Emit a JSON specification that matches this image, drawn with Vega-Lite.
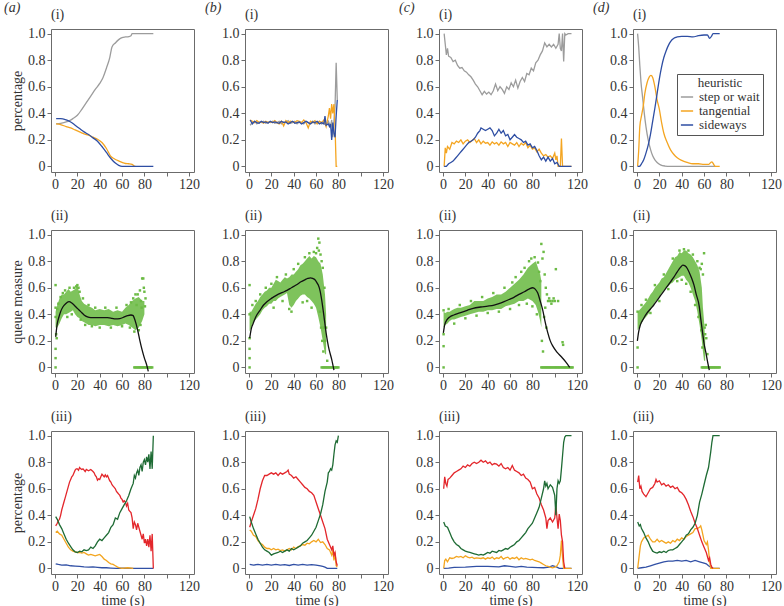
{
  "$schema": "https://vega.github.io/schema/vega-lite/v6.json",
  "padding": {"left": 4, "top": 1, "right": 0, "bottom": 0},
  "config": {
    "font": "Liberation Serif",
    "view": {"stroke": "#6b6b6b", "strokeWidth": 1},
    "axis": {"labelFont": "Liberation Serif", "labelFontSize": 14, "labelColor": "#333", "titleFont": "Liberation Serif", "titleFontSize": 14, "titleFontWeight": "normal", "titleColor": "#333", "domain": false, "grid": false, "tickColor": "#6b6b6b", "tickSize": 4, "labelOverlap": false},
    "axisX": {"labelPadding": 1, "titlePadding": 0},
    "axisY": {"labelPadding": 2, "titlePadding": 3},
    "title": {"font": "Liberation Serif", "fontSize": 14, "fontWeight": "normal", "color": "#333", "anchor": "start", "frame": "group", "offset": 5},
    "legend": {"labelFont": "Liberation Serif", "labelFontSize": 13, "labelColor": "#333", "titleFont": "Liberation Serif", "titleFontSize": 13, "titleFontWeight": "normal", "titleColor": "#333", "strokeColor": "#555", "padding": 3, "symbolStrokeWidth": 1.5, "symbolSize": 150, "rowPadding": 0, "titlePadding": 0, "labelOffset": 5, "titleAnchor": "middle"}
  },
  "datasets": {
    "lines": [
      {"p":"a1","s":"step or wait","t":1,"v":0.32},{"p":"a1","s":"step or wait","t":5,"v":0.325},{"p":"a1","s":"step or wait","t":10,"v":0.335},{"p":"a1","s":"step or wait","t":13,"v":0.345},{"p":"a1","s":"step or wait","t":16,"v":0.36},{"p":"a1","s":"step or wait","t":20,"v":0.385},{"p":"a1","s":"step or wait","t":24,"v":0.43},{"p":"a1","s":"step or wait","t":28,"v":0.48},{"p":"a1","s":"step or wait","t":32,"v":0.53},{"p":"a1","s":"step or wait","t":36,"v":0.58},{"p":"a1","s":"step or wait","t":40,"v":0.625},{"p":"a1","s":"step or wait","t":43,"v":0.67},{"p":"a1","s":"step or wait","t":46,"v":0.74},{"p":"a1","s":"step or wait","t":49,"v":0.82},{"p":"a1","s":"step or wait","t":51,"v":0.9},{"p":"a1","s":"step or wait","t":54,"v":0.93},{"p":"a1","s":"step or wait","t":57,"v":0.955},{"p":"a1","s":"step or wait","t":60,"v":0.97},{"p":"a1","s":"step or wait","t":63,"v":0.975},{"p":"a1","s":"step or wait","t":66,"v":0.978},{"p":"a1","s":"step or wait","t":68,"v":0.985},{"p":"a1","s":"step or wait","t":69,"v":1.0},{"p":"a1","s":"step or wait","t":75,"v":1.0},{"p":"a1","s":"step or wait","t":88,"v":1.0},
      {"p":"a1","s":"tangential","t":1,"v":0.32},{"p":"a1","s":"tangential","t":5,"v":0.315},{"p":"a1","s":"tangential","t":10,"v":0.3},{"p":"a1","s":"tangential","t":14,"v":0.29},{"p":"a1","s":"tangential","t":18,"v":0.275},{"p":"a1","s":"tangential","t":22,"v":0.26},{"p":"a1","s":"tangential","t":26,"v":0.245},{"p":"a1","s":"tangential","t":30,"v":0.235},{"p":"a1","s":"tangential","t":34,"v":0.22},{"p":"a1","s":"tangential","t":38,"v":0.205},{"p":"a1","s":"tangential","t":42,"v":0.18},{"p":"a1","s":"tangential","t":46,"v":0.135},{"p":"a1","s":"tangential","t":50,"v":0.075},{"p":"a1","s":"tangential","t":53,"v":0.058},{"p":"a1","s":"tangential","t":56,"v":0.045},{"p":"a1","s":"tangential","t":60,"v":0.03},{"p":"a1","s":"tangential","t":63,"v":0.022},{"p":"a1","s":"tangential","t":66,"v":0.02},{"p":"a1","s":"tangential","t":69,"v":0.015},{"p":"a1","s":"tangential","t":71,"v":0.003},{"p":"a1","s":"tangential","t":72,"v":0},
      {"p":"a1","s":"sideways","t":1,"v":0.36},{"p":"a1","s":"sideways","t":5,"v":0.36},{"p":"a1","s":"sideways","t":10,"v":0.35},{"p":"a1","s":"sideways","t":14,"v":0.335},{"p":"a1","s":"sideways","t":18,"v":0.31},{"p":"a1","s":"sideways","t":22,"v":0.285},{"p":"a1","s":"sideways","t":26,"v":0.26},{"p":"a1","s":"sideways","t":30,"v":0.24},{"p":"a1","s":"sideways","t":34,"v":0.215},{"p":"a1","s":"sideways","t":38,"v":0.19},{"p":"a1","s":"sideways","t":42,"v":0.15},{"p":"a1","s":"sideways","t":46,"v":0.105},{"p":"a1","s":"sideways","t":50,"v":0.06},{"p":"a1","s":"sideways","t":54,"v":0.025},{"p":"a1","s":"sideways","t":57,"v":0.008},{"p":"a1","s":"sideways","t":60,"v":0},{"p":"a1","s":"sideways","t":70,"v":0},{"p":"a1","s":"sideways","t":88,"v":0},

      {"p":"b1","s":"step or wait","t":1,"v":0.31},{"p":"b1","s":"step or wait","t":3,"v":0.33},{"p":"b1","s":"step or wait","t":5,"v":0.34},{"p":"b1","s":"step or wait","t":7,"v":0.32},{"p":"b1","s":"step or wait","t":9,"v":0.335},{"p":"b1","s":"step or wait","t":11,"v":0.33},{"p":"b1","s":"step or wait","t":13,"v":0.34},{"p":"b1","s":"step or wait","t":15,"v":0.325},{"p":"b1","s":"step or wait","t":17,"v":0.335},{"p":"b1","s":"step or wait","t":19,"v":0.33},{"p":"b1","s":"step or wait","t":21,"v":0.34},{"p":"b1","s":"step or wait","t":23,"v":0.325},{"p":"b1","s":"step or wait","t":25,"v":0.33},{"p":"b1","s":"step or wait","t":27,"v":0.34},{"p":"b1","s":"step or wait","t":29,"v":0.32},{"p":"b1","s":"step or wait","t":31,"v":0.335},{"p":"b1","s":"step or wait","t":33,"v":0.33},{"p":"b1","s":"step or wait","t":35,"v":0.345},{"p":"b1","s":"step or wait","t":37,"v":0.325},{"p":"b1","s":"step or wait","t":39,"v":0.33},{"p":"b1","s":"step or wait","t":41,"v":0.34},{"p":"b1","s":"step or wait","t":43,"v":0.32},{"p":"b1","s":"step or wait","t":45,"v":0.335},{"p":"b1","s":"step or wait","t":47,"v":0.33},{"p":"b1","s":"step or wait","t":49,"v":0.32},{"p":"b1","s":"step or wait","t":51,"v":0.34},{"p":"b1","s":"step or wait","t":53,"v":0.33},{"p":"b1","s":"step or wait","t":55,"v":0.325},{"p":"b1","s":"step or wait","t":57,"v":0.34},{"p":"b1","s":"step or wait","t":59,"v":0.32},{"p":"b1","s":"step or wait","t":61,"v":0.33},{"p":"b1","s":"step or wait","t":63,"v":0.34},{"p":"b1","s":"step or wait","t":65,"v":0.32},{"p":"b1","s":"step or wait","t":67,"v":0.33},{"p":"b1","s":"step or wait","t":69,"v":0.31},{"p":"b1","s":"step or wait","t":71,"v":0.34},{"p":"b1","s":"step or wait","t":73,"v":0.3},{"p":"b1","s":"step or wait","t":74,"v":0.35},{"p":"b1","s":"step or wait","t":75,"v":0.22},{"p":"b1","s":"step or wait","t":76,"v":0.34},{"p":"b1","s":"step or wait","t":77,"v":0.45},{"p":"b1","s":"step or wait","t":78,"v":0.78},{"p":"b1","s":"step or wait","t":79,"v":0.5},
      {"p":"b1","s":"tangential","t":1,"v":0.35},{"p":"b1","s":"tangential","t":3,"v":0.34},{"p":"b1","s":"tangential","t":5,"v":0.33},{"p":"b1","s":"tangential","t":7,"v":0.345},{"p":"b1","s":"tangential","t":9,"v":0.33},{"p":"b1","s":"tangential","t":11,"v":0.335},{"p":"b1","s":"tangential","t":13,"v":0.325},{"p":"b1","s":"tangential","t":15,"v":0.34},{"p":"b1","s":"tangential","t":17,"v":0.33},{"p":"b1","s":"tangential","t":19,"v":0.335},{"p":"b1","s":"tangential","t":21,"v":0.33},{"p":"b1","s":"tangential","t":23,"v":0.345},{"p":"b1","s":"tangential","t":25,"v":0.33},{"p":"b1","s":"tangential","t":27,"v":0.32},{"p":"b1","s":"tangential","t":29,"v":0.34},{"p":"b1","s":"tangential","t":31,"v":0.305},{"p":"b1","s":"tangential","t":33,"v":0.345},{"p":"b1","s":"tangential","t":35,"v":0.33},{"p":"b1","s":"tangential","t":37,"v":0.34},{"p":"b1","s":"tangential","t":39,"v":0.335},{"p":"b1","s":"tangential","t":41,"v":0.33},{"p":"b1","s":"tangential","t":43,"v":0.345},{"p":"b1","s":"tangential","t":45,"v":0.34},{"p":"b1","s":"tangential","t":47,"v":0.33},{"p":"b1","s":"tangential","t":49,"v":0.35},{"p":"b1","s":"tangential","t":51,"v":0.33},{"p":"b1","s":"tangential","t":53,"v":0.29},{"p":"b1","s":"tangential","t":55,"v":0.34},{"p":"b1","s":"tangential","t":57,"v":0.33},{"p":"b1","s":"tangential","t":59,"v":0.345},{"p":"b1","s":"tangential","t":61,"v":0.32},{"p":"b1","s":"tangential","t":63,"v":0.34},{"p":"b1","s":"tangential","t":65,"v":0.33},{"p":"b1","s":"tangential","t":67,"v":0.35},{"p":"b1","s":"tangential","t":69,"v":0.3},{"p":"b1","s":"tangential","t":71,"v":0.38},{"p":"b1","s":"tangential","t":72,"v":0.44},{"p":"b1","s":"tangential","t":73,"v":0.36},{"p":"b1","s":"tangential","t":74,"v":0.47},{"p":"b1","s":"tangential","t":75,"v":0.4},{"p":"b1","s":"tangential","t":76,"v":0.47},{"p":"b1","s":"tangential","t":77,"v":0.3},{"p":"b1","s":"tangential","t":78,"v":0.0},{"p":"b1","s":"tangential","t":79,"v":0.0},
      {"p":"b1","s":"sideways","t":1,"v":0.35},{"p":"b1","s":"sideways","t":3,"v":0.32},{"p":"b1","s":"sideways","t":5,"v":0.34},{"p":"b1","s":"sideways","t":7,"v":0.33},{"p":"b1","s":"sideways","t":9,"v":0.325},{"p":"b1","s":"sideways","t":11,"v":0.34},{"p":"b1","s":"sideways","t":13,"v":0.33},{"p":"b1","s":"sideways","t":15,"v":0.335},{"p":"b1","s":"sideways","t":17,"v":0.325},{"p":"b1","s":"sideways","t":19,"v":0.34},{"p":"b1","s":"sideways","t":21,"v":0.33},{"p":"b1","s":"sideways","t":23,"v":0.335},{"p":"b1","s":"sideways","t":25,"v":0.33},{"p":"b1","s":"sideways","t":27,"v":0.325},{"p":"b1","s":"sideways","t":29,"v":0.34},{"p":"b1","s":"sideways","t":31,"v":0.33},{"p":"b1","s":"sideways","t":33,"v":0.335},{"p":"b1","s":"sideways","t":35,"v":0.32},{"p":"b1","s":"sideways","t":37,"v":0.33},{"p":"b1","s":"sideways","t":39,"v":0.34},{"p":"b1","s":"sideways","t":41,"v":0.325},{"p":"b1","s":"sideways","t":43,"v":0.33},{"p":"b1","s":"sideways","t":45,"v":0.335},{"p":"b1","s":"sideways","t":47,"v":0.32},{"p":"b1","s":"sideways","t":49,"v":0.33},{"p":"b1","s":"sideways","t":51,"v":0.34},{"p":"b1","s":"sideways","t":53,"v":0.33},{"p":"b1","s":"sideways","t":55,"v":0.32},{"p":"b1","s":"sideways","t":57,"v":0.335},{"p":"b1","s":"sideways","t":59,"v":0.33},{"p":"b1","s":"sideways","t":61,"v":0.34},{"p":"b1","s":"sideways","t":63,"v":0.32},{"p":"b1","s":"sideways","t":65,"v":0.33},{"p":"b1","s":"sideways","t":67,"v":0.32},{"p":"b1","s":"sideways","t":68,"v":0.38},{"p":"b1","s":"sideways","t":69,"v":0.31},{"p":"b1","s":"sideways","t":71,"v":0.32},{"p":"b1","s":"sideways","t":72,"v":0.3},{"p":"b1","s":"sideways","t":73,"v":0.32},{"p":"b1","s":"sideways","t":74,"v":0.2},{"p":"b1","s":"sideways","t":75,"v":0.33},{"p":"b1","s":"sideways","t":76,"v":0.25},{"p":"b1","s":"sideways","t":77,"v":0.22},{"p":"b1","s":"sideways","t":78,"v":0.38},{"p":"b1","s":"sideways","t":79,"v":0.5},

      {"p":"c1","s":"step or wait","t":1,"v":1.0},{"p":"c1","s":"step or wait","t":2,"v":0.92},{"p":"c1","s":"step or wait","t":3,"v":0.84},{"p":"c1","s":"step or wait","t":4,"v":0.89},{"p":"c1","s":"step or wait","t":5,"v":0.83},{"p":"c1","s":"step or wait","t":7,"v":0.82},{"p":"c1","s":"step or wait","t":9,"v":0.79},{"p":"c1","s":"step or wait","t":11,"v":0.8},{"p":"c1","s":"step or wait","t":13,"v":0.76},{"p":"c1","s":"step or wait","t":15,"v":0.74},{"p":"c1","s":"step or wait","t":17,"v":0.745},{"p":"c1","s":"step or wait","t":19,"v":0.72},{"p":"c1","s":"step or wait","t":21,"v":0.71},{"p":"c1","s":"step or wait","t":23,"v":0.69},{"p":"c1","s":"step or wait","t":25,"v":0.675},{"p":"c1","s":"step or wait","t":27,"v":0.65},{"p":"c1","s":"step or wait","t":29,"v":0.62},{"p":"c1","s":"step or wait","t":31,"v":0.6},{"p":"c1","s":"step or wait","t":33,"v":0.57},{"p":"c1","s":"step or wait","t":35,"v":0.54},{"p":"c1","s":"step or wait","t":37,"v":0.565},{"p":"c1","s":"step or wait","t":39,"v":0.545},{"p":"c1","s":"step or wait","t":41,"v":0.56},{"p":"c1","s":"step or wait","t":43,"v":0.54},{"p":"c1","s":"step or wait","t":45,"v":0.57},{"p":"c1","s":"step or wait","t":47,"v":0.62},{"p":"c1","s":"step or wait","t":49,"v":0.57},{"p":"c1","s":"step or wait","t":51,"v":0.6},{"p":"c1","s":"step or wait","t":53,"v":0.58},{"p":"c1","s":"step or wait","t":55,"v":0.55},{"p":"c1","s":"step or wait","t":57,"v":0.6},{"p":"c1","s":"step or wait","t":59,"v":0.58},{"p":"c1","s":"step or wait","t":61,"v":0.63},{"p":"c1","s":"step or wait","t":63,"v":0.6},{"p":"c1","s":"step or wait","t":65,"v":0.65},{"p":"c1","s":"step or wait","t":67,"v":0.59},{"p":"c1","s":"step or wait","t":69,"v":0.64},{"p":"c1","s":"step or wait","t":71,"v":0.67},{"p":"c1","s":"step or wait","t":73,"v":0.64},{"p":"c1","s":"step or wait","t":75,"v":0.7},{"p":"c1","s":"step or wait","t":77,"v":0.69},{"p":"c1","s":"step or wait","t":79,"v":0.74},{"p":"c1","s":"step or wait","t":81,"v":0.72},{"p":"c1","s":"step or wait","t":83,"v":0.78},{"p":"c1","s":"step or wait","t":85,"v":0.8},{"p":"c1","s":"step or wait","t":87,"v":0.84},{"p":"c1","s":"step or wait","t":89,"v":0.87},{"p":"c1","s":"step or wait","t":91,"v":0.93},{"p":"c1","s":"step or wait","t":93,"v":0.9},{"p":"c1","s":"step or wait","t":95,"v":0.92},{"p":"c1","s":"step or wait","t":97,"v":0.9},{"p":"c1","s":"step or wait","t":99,"v":0.92},{"p":"c1","s":"step or wait","t":101,"v":0.89},{"p":"c1","s":"step or wait","t":103,"v":0.92},{"p":"c1","s":"step or wait","t":104,"v":1.0},{"p":"c1","s":"step or wait","t":105,"v":0.89},{"p":"c1","s":"step or wait","t":106,"v":0.87},{"p":"c1","s":"step or wait","t":107,"v":1.0},{"p":"c1","s":"step or wait","t":108,"v":0.79},{"p":"c1","s":"step or wait","t":109,"v":1.0},{"p":"c1","s":"step or wait","t":110,"v":0.99},{"p":"c1","s":"step or wait","t":112,"v":1.0},{"p":"c1","s":"step or wait","t":115,"v":1.0},
      {"p":"c1","s":"tangential","t":1,"v":0.0},{"p":"c1","s":"tangential","t":2,"v":0.14},{"p":"c1","s":"tangential","t":3,"v":0.1},{"p":"c1","s":"tangential","t":4,"v":0.15},{"p":"c1","s":"tangential","t":6,"v":0.13},{"p":"c1","s":"tangential","t":8,"v":0.18},{"p":"c1","s":"tangential","t":10,"v":0.17},{"p":"c1","s":"tangential","t":12,"v":0.19},{"p":"c1","s":"tangential","t":14,"v":0.18},{"p":"c1","s":"tangential","t":16,"v":0.2},{"p":"c1","s":"tangential","t":18,"v":0.17},{"p":"c1","s":"tangential","t":20,"v":0.19},{"p":"c1","s":"tangential","t":22,"v":0.2},{"p":"c1","s":"tangential","t":24,"v":0.18},{"p":"c1","s":"tangential","t":26,"v":0.195},{"p":"c1","s":"tangential","t":28,"v":0.21},{"p":"c1","s":"tangential","t":30,"v":0.18},{"p":"c1","s":"tangential","t":32,"v":0.2},{"p":"c1","s":"tangential","t":34,"v":0.17},{"p":"c1","s":"tangential","t":36,"v":0.19},{"p":"c1","s":"tangential","t":38,"v":0.175},{"p":"c1","s":"tangential","t":40,"v":0.18},{"p":"c1","s":"tangential","t":42,"v":0.16},{"p":"c1","s":"tangential","t":44,"v":0.185},{"p":"c1","s":"tangential","t":46,"v":0.17},{"p":"c1","s":"tangential","t":48,"v":0.18},{"p":"c1","s":"tangential","t":50,"v":0.16},{"p":"c1","s":"tangential","t":52,"v":0.185},{"p":"c1","s":"tangential","t":54,"v":0.17},{"p":"c1","s":"tangential","t":56,"v":0.18},{"p":"c1","s":"tangential","t":58,"v":0.15},{"p":"c1","s":"tangential","t":60,"v":0.18},{"p":"c1","s":"tangential","t":62,"v":0.17},{"p":"c1","s":"tangential","t":64,"v":0.16},{"p":"c1","s":"tangential","t":66,"v":0.18},{"p":"c1","s":"tangential","t":68,"v":0.15},{"p":"c1","s":"tangential","t":70,"v":0.175},{"p":"c1","s":"tangential","t":72,"v":0.16},{"p":"c1","s":"tangential","t":74,"v":0.18},{"p":"c1","s":"tangential","t":76,"v":0.14},{"p":"c1","s":"tangential","t":78,"v":0.16},{"p":"c1","s":"tangential","t":80,"v":0.13},{"p":"c1","s":"tangential","t":82,"v":0.14},{"p":"c1","s":"tangential","t":84,"v":0.11},{"p":"c1","s":"tangential","t":86,"v":0.13},{"p":"c1","s":"tangential","t":88,"v":0.1},{"p":"c1","s":"tangential","t":90,"v":0.08},{"p":"c1","s":"tangential","t":92,"v":0.09},{"p":"c1","s":"tangential","t":94,"v":0.07},{"p":"c1","s":"tangential","t":96,"v":0.08},{"p":"c1","s":"tangential","t":98,"v":0.06},{"p":"c1","s":"tangential","t":100,"v":0.1},{"p":"c1","s":"tangential","t":101,"v":0.05},{"p":"c1","s":"tangential","t":102,"v":0.08},{"p":"c1","s":"tangential","t":103,"v":0.0},{"p":"c1","s":"tangential","t":105,"v":0.0},{"p":"c1","s":"tangential","t":106,"v":0.21},{"p":"c1","s":"tangential","t":107,"v":0.0},{"p":"c1","s":"tangential","t":115,"v":0.0},
      {"p":"c1","s":"sideways","t":1,"v":0},{"p":"c1","s":"sideways","t":3,"v":0.0},{"p":"c1","s":"sideways","t":5,"v":0.02},{"p":"c1","s":"sideways","t":7,"v":0.03},{"p":"c1","s":"sideways","t":9,"v":0.04},{"p":"c1","s":"sideways","t":11,"v":0.06},{"p":"c1","s":"sideways","t":13,"v":0.08},{"p":"c1","s":"sideways","t":15,"v":0.1},{"p":"c1","s":"sideways","t":17,"v":0.12},{"p":"c1","s":"sideways","t":19,"v":0.14},{"p":"c1","s":"sideways","t":21,"v":0.16},{"p":"c1","s":"sideways","t":23,"v":0.18},{"p":"c1","s":"sideways","t":25,"v":0.19},{"p":"c1","s":"sideways","t":27,"v":0.2},{"p":"c1","s":"sideways","t":29,"v":0.22},{"p":"c1","s":"sideways","t":31,"v":0.25},{"p":"c1","s":"sideways","t":33,"v":0.27},{"p":"c1","s":"sideways","t":34,"v":0.29},{"p":"c1","s":"sideways","t":36,"v":0.28},{"p":"c1","s":"sideways","t":38,"v":0.27},{"p":"c1","s":"sideways","t":40,"v":0.28},{"p":"c1","s":"sideways","t":42,"v":0.29},{"p":"c1","s":"sideways","t":44,"v":0.27},{"p":"c1","s":"sideways","t":46,"v":0.23},{"p":"c1","s":"sideways","t":48,"v":0.25},{"p":"c1","s":"sideways","t":50,"v":0.28},{"p":"c1","s":"sideways","t":52,"v":0.25},{"p":"c1","s":"sideways","t":54,"v":0.27},{"p":"c1","s":"sideways","t":56,"v":0.23},{"p":"c1","s":"sideways","t":58,"v":0.24},{"p":"c1","s":"sideways","t":60,"v":0.2},{"p":"c1","s":"sideways","t":62,"v":0.22},{"p":"c1","s":"sideways","t":64,"v":0.24},{"p":"c1","s":"sideways","t":66,"v":0.22},{"p":"c1","s":"sideways","t":68,"v":0.21},{"p":"c1","s":"sideways","t":70,"v":0.2},{"p":"c1","s":"sideways","t":72,"v":0.18},{"p":"c1","s":"sideways","t":74,"v":0.19},{"p":"c1","s":"sideways","t":76,"v":0.16},{"p":"c1","s":"sideways","t":78,"v":0.17},{"p":"c1","s":"sideways","t":80,"v":0.14},{"p":"c1","s":"sideways","t":82,"v":0.15},{"p":"c1","s":"sideways","t":84,"v":0.12},{"p":"c1","s":"sideways","t":86,"v":0.08},{"p":"c1","s":"sideways","t":88,"v":0.05},{"p":"c1","s":"sideways","t":90,"v":0.07},{"p":"c1","s":"sideways","t":92,"v":0.04},{"p":"c1","s":"sideways","t":94,"v":0.07},{"p":"c1","s":"sideways","t":96,"v":0.04},{"p":"c1","s":"sideways","t":98,"v":0.06},{"p":"c1","s":"sideways","t":100,"v":0.02},{"p":"c1","s":"sideways","t":102,"v":0.03},{"p":"c1","s":"sideways","t":104,"v":0.0},{"p":"c1","s":"sideways","t":115,"v":0},

      {"p":"d1","s":"step or wait","t":0.5,"v":1.0},{"p":"d1","s":"step or wait","t":1.5,"v":0.9},{"p":"d1","s":"step or wait","t":2.5,"v":0.76},{"p":"d1","s":"step or wait","t":3.5,"v":0.64},{"p":"d1","s":"step or wait","t":5,"v":0.52},{"p":"d1","s":"step or wait","t":6.5,"v":0.4},{"p":"d1","s":"step or wait","t":8,"v":0.3},{"p":"d1","s":"step or wait","t":10,"v":0.2},{"p":"d1","s":"step or wait","t":12,"v":0.13},{"p":"d1","s":"step or wait","t":14,"v":0.08},{"p":"d1","s":"step or wait","t":16,"v":0.05},{"p":"d1","s":"step or wait","t":18,"v":0.03},{"p":"d1","s":"step or wait","t":21,"v":0.012},{"p":"d1","s":"step or wait","t":25,"v":0.003},{"p":"d1","s":"step or wait","t":30,"v":0},{"p":"d1","s":"step or wait","t":50,"v":0},{"p":"d1","s":"step or wait","t":70,"v":0},
      {"p":"d1","s":"tangential","t":0.5,"v":0},{"p":"d1","s":"tangential","t":1.5,"v":0.12},{"p":"d1","s":"tangential","t":2.5,"v":0.3},{"p":"d1","s":"tangential","t":4,"v":0.38},{"p":"d1","s":"tangential","t":5.5,"v":0.45},{"p":"d1","s":"tangential","t":7,"v":0.55},{"p":"d1","s":"tangential","t":9,"v":0.63},{"p":"d1","s":"tangential","t":11,"v":0.675},{"p":"d1","s":"tangential","t":12.5,"v":0.685},{"p":"d1","s":"tangential","t":14,"v":0.67},{"p":"d1","s":"tangential","t":16,"v":0.6},{"p":"d1","s":"tangential","t":18,"v":0.5},{"p":"d1","s":"tangential","t":20,"v":0.43},{"p":"d1","s":"tangential","t":22,"v":0.33},{"p":"d1","s":"tangential","t":24,"v":0.25},{"p":"d1","s":"tangential","t":27,"v":0.18},{"p":"d1","s":"tangential","t":30,"v":0.125},{"p":"d1","s":"tangential","t":33,"v":0.09},{"p":"d1","s":"tangential","t":36,"v":0.065},{"p":"d1","s":"tangential","t":40,"v":0.045},{"p":"d1","s":"tangential","t":45,"v":0.03},{"p":"d1","s":"tangential","t":50,"v":0.02},{"p":"d1","s":"tangential","t":55,"v":0.02},{"p":"d1","s":"tangential","t":60,"v":0.015},{"p":"d1","s":"tangential","t":64,"v":0.015},{"p":"d1","s":"tangential","t":66,"v":0.03},{"p":"d1","s":"tangential","t":67,"v":0.035},{"p":"d1","s":"tangential","t":69,"v":0.01},{"p":"d1","s":"tangential","t":70,"v":0},{"p":"d1","s":"tangential","t":74,"v":0},
      {"p":"d1","s":"sideways","t":0.5,"v":0},{"p":"d1","s":"sideways","t":2,"v":0},{"p":"d1","s":"sideways","t":4,"v":0.02},{"p":"d1","s":"sideways","t":6,"v":0.05},{"p":"d1","s":"sideways","t":8,"v":0.1},{"p":"d1","s":"sideways","t":10,"v":0.16},{"p":"d1","s":"sideways","t":12,"v":0.24},{"p":"d1","s":"sideways","t":14,"v":0.34},{"p":"d1","s":"sideways","t":16,"v":0.44},{"p":"d1","s":"sideways","t":18,"v":0.55},{"p":"d1","s":"sideways","t":20,"v":0.66},{"p":"d1","s":"sideways","t":22,"v":0.75},{"p":"d1","s":"sideways","t":24,"v":0.82},{"p":"d1","s":"sideways","t":26,"v":0.87},{"p":"d1","s":"sideways","t":28,"v":0.91},{"p":"d1","s":"sideways","t":30,"v":0.94},{"p":"d1","s":"sideways","t":33,"v":0.965},{"p":"d1","s":"sideways","t":36,"v":0.975},{"p":"d1","s":"sideways","t":40,"v":0.98},{"p":"d1","s":"sideways","t":45,"v":0.98},{"p":"d1","s":"sideways","t":50,"v":0.975},{"p":"d1","s":"sideways","t":55,"v":0.985},{"p":"d1","s":"sideways","t":60,"v":0.99},{"p":"d1","s":"sideways","t":63,"v":0.99},{"p":"d1","s":"sideways","t":65,"v":0.965},{"p":"d1","s":"sideways","t":67,"v":0.985},{"p":"d1","s":"sideways","t":68,"v":1.0},{"p":"d1","s":"sideways","t":74,"v":1.0},

      {"p":"a3","s":"s4","t":0.6,"v":0.035},{"p":"a3","s":"s4","t":3,"v":0.03},{"p":"a3","s":"s4","t":6,"v":0.025},{"p":"a3","s":"s4","t":10,"v":0.027},{"p":"a3","s":"s4","t":14,"v":0.02},{"p":"a3","s":"s4","t":18,"v":0.018},{"p":"a3","s":"s4","t":22,"v":0.016},{"p":"a3","s":"s4","t":26,"v":0.012},{"p":"a3","s":"s4","t":30,"v":0.01},{"p":"a3","s":"s4","t":34,"v":0.011},{"p":"a3","s":"s4","t":38,"v":0.008},{"p":"a3","s":"s4","t":42,"v":0.005},{"p":"a3","s":"s4","t":46,"v":0.005},{"p":"a3","s":"s4","t":50,"v":0.003},{"p":"a3","s":"s4","t":55,"v":0},{"p":"a3","s":"s4","t":60,"v":0.002},{"p":"a3","s":"s4","t":70,"v":0},{"p":"a3","s":"s4","t":88,"v":0},
      {"p":"a3","s":"s3","t":0.6,"v":0.27},{"p":"a3","s":"s3","t":2,"v":0.28},{"p":"a3","s":"s3","t":4,"v":0.26},{"p":"a3","s":"s3","t":6,"v":0.25},{"p":"a3","s":"s3","t":8,"v":0.22},{"p":"a3","s":"s3","t":10,"v":0.19},{"p":"a3","s":"s3","t":12,"v":0.16},{"p":"a3","s":"s3","t":14,"v":0.14},{"p":"a3","s":"s3","t":16,"v":0.13},{"p":"a3","s":"s3","t":18,"v":0.125},{"p":"a3","s":"s3","t":20,"v":0.12},{"p":"a3","s":"s3","t":22,"v":0.12},{"p":"a3","s":"s3","t":24,"v":0.115},{"p":"a3","s":"s3","t":26,"v":0.12},{"p":"a3","s":"s3","t":28,"v":0.11},{"p":"a3","s":"s3","t":30,"v":0.1},{"p":"a3","s":"s3","t":32,"v":0.105},{"p":"a3","s":"s3","t":34,"v":0.1},{"p":"a3","s":"s3","t":36,"v":0.095},{"p":"a3","s":"s3","t":38,"v":0.1},{"p":"a3","s":"s3","t":40,"v":0.105},{"p":"a3","s":"s3","t":42,"v":0.09},{"p":"a3","s":"s3","t":44,"v":0.07},{"p":"a3","s":"s3","t":46,"v":0.06},{"p":"a3","s":"s3","t":48,"v":0.045},{"p":"a3","s":"s3","t":50,"v":0.035},{"p":"a3","s":"s3","t":52,"v":0.03},{"p":"a3","s":"s3","t":54,"v":0.02},{"p":"a3","s":"s3","t":56,"v":0.01},{"p":"a3","s":"s3","t":58,"v":0.005},{"p":"a3","s":"s3","t":60,"v":0},{"p":"a3","s":"s3","t":65,"v":0.005},{"p":"a3","s":"s3","t":70,"v":0},
      {"p":"a3","s":"s1","t":0.6,"v":0.32},{"p":"a3","s":"s1","t":2,"v":0.34},{"p":"a3","s":"s1","t":3,"v":0.36},{"p":"a3","s":"s1","t":4,"v":0.37},{"p":"a3","s":"s1","t":5,"v":0.4},{"p":"a3","s":"s1","t":6,"v":0.44},{"p":"a3","s":"s1","t":7,"v":0.47},{"p":"a3","s":"s1","t":8,"v":0.5},{"p":"a3","s":"s1","t":9,"v":0.53},{"p":"a3","s":"s1","t":10,"v":0.56},{"p":"a3","s":"s1","t":11,"v":0.59},{"p":"a3","s":"s1","t":12,"v":0.62},{"p":"a3","s":"s1","t":13,"v":0.65},{"p":"a3","s":"s1","t":14,"v":0.67},{"p":"a3","s":"s1","t":15,"v":0.69},{"p":"a3","s":"s1","t":16,"v":0.7},{"p":"a3","s":"s1","t":17,"v":0.72},{"p":"a3","s":"s1","t":18,"v":0.74},{"p":"a3","s":"s1","t":19,"v":0.75},{"p":"a3","s":"s1","t":20,"v":0.75},{"p":"a3","s":"s1","t":21,"v":0.74},{"p":"a3","s":"s1","t":22,"v":0.76},{"p":"a3","s":"s1","t":23,"v":0.75},{"p":"a3","s":"s1","t":24,"v":0.745},{"p":"a3","s":"s1","t":25,"v":0.75},{"p":"a3","s":"s1","t":26,"v":0.74},{"p":"a3","s":"s1","t":27,"v":0.73},{"p":"a3","s":"s1","t":28,"v":0.745},{"p":"a3","s":"s1","t":30,"v":0.735},{"p":"a3","s":"s1","t":32,"v":0.745},{"p":"a3","s":"s1","t":34,"v":0.73},{"p":"a3","s":"s1","t":35,"v":0.72},{"p":"a3","s":"s1","t":36,"v":0.7},{"p":"a3","s":"s1","t":37,"v":0.69},{"p":"a3","s":"s1","t":38,"v":0.665},{"p":"a3","s":"s1","t":39,"v":0.675},{"p":"a3","s":"s1","t":40,"v":0.67},{"p":"a3","s":"s1","t":41,"v":0.69},{"p":"a3","s":"s1","t":42,"v":0.71},{"p":"a3","s":"s1","t":43,"v":0.7},{"p":"a3","s":"s1","t":44,"v":0.69},{"p":"a3","s":"s1","t":45,"v":0.705},{"p":"a3","s":"s1","t":46,"v":0.69},{"p":"a3","s":"s1","t":47,"v":0.7},{"p":"a3","s":"s1","t":48,"v":0.68},{"p":"a3","s":"s1","t":49,"v":0.66},{"p":"a3","s":"s1","t":50,"v":0.65},{"p":"a3","s":"s1","t":51,"v":0.63},{"p":"a3","s":"s1","t":52,"v":0.62},{"p":"a3","s":"s1","t":53,"v":0.61},{"p":"a3","s":"s1","t":54,"v":0.6},{"p":"a3","s":"s1","t":55,"v":0.58},{"p":"a3","s":"s1","t":56,"v":0.57},{"p":"a3","s":"s1","t":57,"v":0.56},{"p":"a3","s":"s1","t":58,"v":0.55},{"p":"a3","s":"s1","t":59,"v":0.53},{"p":"a3","s":"s1","t":60,"v":0.52},{"p":"a3","s":"s1","t":61,"v":0.5},{"p":"a3","s":"s1","t":62,"v":0.51},{"p":"a3","s":"s1","t":63,"v":0.5},{"p":"a3","s":"s1","t":64,"v":0.47},{"p":"a3","s":"s1","t":65,"v":0.49},{"p":"a3","s":"s1","t":66,"v":0.44},{"p":"a3","s":"s1","t":67,"v":0.43},{"p":"a3","s":"s1","t":68,"v":0.42},{"p":"a3","s":"s1","t":69,"v":0.38},{"p":"a3","s":"s1","t":70,"v":0.3},{"p":"a3","s":"s1","t":71,"v":0.35},{"p":"a3","s":"s1","t":72,"v":0.33},{"p":"a3","s":"s1","t":73,"v":0.29},{"p":"a3","s":"s1","t":74,"v":0.34},{"p":"a3","s":"s1","t":75,"v":0.31},{"p":"a3","s":"s1","t":76,"v":0.28},{"p":"a3","s":"s1","t":77,"v":0.25},{"p":"a3","s":"s1","t":78,"v":0.22},{"p":"a3","s":"s1","t":79,"v":0.26},{"p":"a3","s":"s1","t":80,"v":0.19},{"p":"a3","s":"s1","t":81,"v":0.22},{"p":"a3","s":"s1","t":82,"v":0.17},{"p":"a3","s":"s1","t":83,"v":0.22},{"p":"a3","s":"s1","t":84,"v":0.16},{"p":"a3","s":"s1","t":85,"v":0.25},{"p":"a3","s":"s1","t":86,"v":0.13},{"p":"a3","s":"s1","t":87,"v":0.26},{"p":"a3","s":"s1","t":88,"v":0.0},
      {"p":"a3","s":"s2","t":0.6,"v":0.39},{"p":"a3","s":"s2","t":2,"v":0.37},{"p":"a3","s":"s2","t":4,"v":0.33},{"p":"a3","s":"s2","t":6,"v":0.3},{"p":"a3","s":"s2","t":8,"v":0.26},{"p":"a3","s":"s2","t":10,"v":0.22},{"p":"a3","s":"s2","t":12,"v":0.19},{"p":"a3","s":"s2","t":14,"v":0.165},{"p":"a3","s":"s2","t":16,"v":0.14},{"p":"a3","s":"s2","t":18,"v":0.125},{"p":"a3","s":"s2","t":20,"v":0.12},{"p":"a3","s":"s2","t":22,"v":0.13},{"p":"a3","s":"s2","t":24,"v":0.125},{"p":"a3","s":"s2","t":26,"v":0.14},{"p":"a3","s":"s2","t":28,"v":0.135},{"p":"a3","s":"s2","t":30,"v":0.14},{"p":"a3","s":"s2","t":32,"v":0.16},{"p":"a3","s":"s2","t":34,"v":0.15},{"p":"a3","s":"s2","t":36,"v":0.17},{"p":"a3","s":"s2","t":38,"v":0.2},{"p":"a3","s":"s2","t":40,"v":0.22},{"p":"a3","s":"s2","t":42,"v":0.21},{"p":"a3","s":"s2","t":44,"v":0.23},{"p":"a3","s":"s2","t":46,"v":0.25},{"p":"a3","s":"s2","t":48,"v":0.27},{"p":"a3","s":"s2","t":50,"v":0.31},{"p":"a3","s":"s2","t":52,"v":0.33},{"p":"a3","s":"s2","t":54,"v":0.38},{"p":"a3","s":"s2","t":56,"v":0.37},{"p":"a3","s":"s2","t":58,"v":0.42},{"p":"a3","s":"s2","t":60,"v":0.45},{"p":"a3","s":"s2","t":62,"v":0.48},{"p":"a3","s":"s2","t":64,"v":0.51},{"p":"a3","s":"s2","t":66,"v":0.55},{"p":"a3","s":"s2","t":68,"v":0.6},{"p":"a3","s":"s2","t":70,"v":0.64},{"p":"a3","s":"s2","t":71,"v":0.7},{"p":"a3","s":"s2","t":72,"v":0.68},{"p":"a3","s":"s2","t":73,"v":0.72},{"p":"a3","s":"s2","t":74,"v":0.74},{"p":"a3","s":"s2","t":75,"v":0.7},{"p":"a3","s":"s2","t":76,"v":0.76},{"p":"a3","s":"s2","t":77,"v":0.78},{"p":"a3","s":"s2","t":78,"v":0.73},{"p":"a3","s":"s2","t":79,"v":0.8},{"p":"a3","s":"s2","t":80,"v":0.82},{"p":"a3","s":"s2","t":81,"v":0.78},{"p":"a3","s":"s2","t":82,"v":0.84},{"p":"a3","s":"s2","t":83,"v":0.8},{"p":"a3","s":"s2","t":84,"v":0.86},{"p":"a3","s":"s2","t":85,"v":0.75},{"p":"a3","s":"s2","t":86,"v":0.88},{"p":"a3","s":"s2","t":87,"v":0.75},{"p":"a3","s":"s2","t":88,"v":1.0},

      {"p":"b3","s":"s4","t":0.6,"v":0.03},{"p":"b3","s":"s4","t":4,"v":0.025},{"p":"b3","s":"s4","t":8,"v":0.03},{"p":"b3","s":"s4","t":12,"v":0.025},{"p":"b3","s":"s4","t":16,"v":0.03},{"p":"b3","s":"s4","t":20,"v":0.025},{"p":"b3","s":"s4","t":24,"v":0.03},{"p":"b3","s":"s4","t":28,"v":0.025},{"p":"b3","s":"s4","t":32,"v":0.028},{"p":"b3","s":"s4","t":36,"v":0.022},{"p":"b3","s":"s4","t":40,"v":0.03},{"p":"b3","s":"s4","t":44,"v":0.025},{"p":"b3","s":"s4","t":48,"v":0.03},{"p":"b3","s":"s4","t":52,"v":0.025},{"p":"b3","s":"s4","t":56,"v":0.028},{"p":"b3","s":"s4","t":60,"v":0.025},{"p":"b3","s":"s4","t":64,"v":0.02},{"p":"b3","s":"s4","t":66,"v":0.015},{"p":"b3","s":"s4","t":68,"v":0.01},{"p":"b3","s":"s4","t":70,"v":0},{"p":"b3","s":"s4","t":79,"v":0},
      {"p":"b3","s":"s3","t":0.6,"v":0.29},{"p":"b3","s":"s3","t":2,"v":0.28},{"p":"b3","s":"s3","t":4,"v":0.25},{"p":"b3","s":"s3","t":6,"v":0.24},{"p":"b3","s":"s3","t":8,"v":0.21},{"p":"b3","s":"s3","t":10,"v":0.19},{"p":"b3","s":"s3","t":12,"v":0.18},{"p":"b3","s":"s3","t":14,"v":0.16},{"p":"b3","s":"s3","t":16,"v":0.15},{"p":"b3","s":"s3","t":18,"v":0.15},{"p":"b3","s":"s3","t":20,"v":0.14},{"p":"b3","s":"s3","t":22,"v":0.15},{"p":"b3","s":"s3","t":24,"v":0.14},{"p":"b3","s":"s3","t":26,"v":0.145},{"p":"b3","s":"s3","t":28,"v":0.135},{"p":"b3","s":"s3","t":30,"v":0.14},{"p":"b3","s":"s3","t":32,"v":0.13},{"p":"b3","s":"s3","t":34,"v":0.14},{"p":"b3","s":"s3","t":36,"v":0.15},{"p":"b3","s":"s3","t":38,"v":0.14},{"p":"b3","s":"s3","t":40,"v":0.16},{"p":"b3","s":"s3","t":42,"v":0.15},{"p":"b3","s":"s3","t":44,"v":0.165},{"p":"b3","s":"s3","t":46,"v":0.17},{"p":"b3","s":"s3","t":48,"v":0.18},{"p":"b3","s":"s3","t":50,"v":0.175},{"p":"b3","s":"s3","t":52,"v":0.19},{"p":"b3","s":"s3","t":54,"v":0.185},{"p":"b3","s":"s3","t":56,"v":0.2},{"p":"b3","s":"s3","t":58,"v":0.21},{"p":"b3","s":"s3","t":60,"v":0.2},{"p":"b3","s":"s3","t":62,"v":0.22},{"p":"b3","s":"s3","t":64,"v":0.195},{"p":"b3","s":"s3","t":66,"v":0.2},{"p":"b3","s":"s3","t":68,"v":0.18},{"p":"b3","s":"s3","t":70,"v":0.15},{"p":"b3","s":"s3","t":72,"v":0.14},{"p":"b3","s":"s3","t":74,"v":0.1},{"p":"b3","s":"s3","t":75,"v":0.14},{"p":"b3","s":"s3","t":76,"v":0.06},{"p":"b3","s":"s3","t":77,"v":0.12},{"p":"b3","s":"s3","t":78,"v":0.02},{"p":"b3","s":"s3","t":79,"v":0.01},
      {"p":"b3","s":"s1","t":0.6,"v":0.31},{"p":"b3","s":"s1","t":2,"v":0.35},{"p":"b3","s":"s1","t":4,"v":0.4},{"p":"b3","s":"s1","t":6,"v":0.45},{"p":"b3","s":"s1","t":8,"v":0.52},{"p":"b3","s":"s1","t":10,"v":0.6},{"p":"b3","s":"s1","t":12,"v":0.66},{"p":"b3","s":"s1","t":14,"v":0.7},{"p":"b3","s":"s1","t":16,"v":0.7},{"p":"b3","s":"s1","t":18,"v":0.71},{"p":"b3","s":"s1","t":20,"v":0.72},{"p":"b3","s":"s1","t":22,"v":0.71},{"p":"b3","s":"s1","t":24,"v":0.72},{"p":"b3","s":"s1","t":26,"v":0.7},{"p":"b3","s":"s1","t":28,"v":0.72},{"p":"b3","s":"s1","t":30,"v":0.71},{"p":"b3","s":"s1","t":32,"v":0.72},{"p":"b3","s":"s1","t":34,"v":0.73},{"p":"b3","s":"s1","t":35,"v":0.74},{"p":"b3","s":"s1","t":36,"v":0.71},{"p":"b3","s":"s1","t":38,"v":0.7},{"p":"b3","s":"s1","t":40,"v":0.68},{"p":"b3","s":"s1","t":42,"v":0.69},{"p":"b3","s":"s1","t":44,"v":0.67},{"p":"b3","s":"s1","t":46,"v":0.65},{"p":"b3","s":"s1","t":48,"v":0.63},{"p":"b3","s":"s1","t":50,"v":0.61},{"p":"b3","s":"s1","t":52,"v":0.6},{"p":"b3","s":"s1","t":54,"v":0.58},{"p":"b3","s":"s1","t":56,"v":0.57},{"p":"b3","s":"s1","t":58,"v":0.55},{"p":"b3","s":"s1","t":60,"v":0.5},{"p":"b3","s":"s1","t":62,"v":0.45},{"p":"b3","s":"s1","t":64,"v":0.4},{"p":"b3","s":"s1","t":66,"v":0.35},{"p":"b3","s":"s1","t":68,"v":0.3},{"p":"b3","s":"s1","t":70,"v":0.22},{"p":"b3","s":"s1","t":72,"v":0.18},{"p":"b3","s":"s1","t":74,"v":0.14},{"p":"b3","s":"s1","t":75,"v":0.17},{"p":"b3","s":"s1","t":76,"v":0.1},{"p":"b3","s":"s1","t":77,"v":0.12},{"p":"b3","s":"s1","t":78,"v":0.05},{"p":"b3","s":"s1","t":79,"v":0.02},
      {"p":"b3","s":"s2","t":0.6,"v":0.39},{"p":"b3","s":"s2","t":2,"v":0.35},{"p":"b3","s":"s2","t":4,"v":0.3},{"p":"b3","s":"s2","t":6,"v":0.26},{"p":"b3","s":"s2","t":8,"v":0.22},{"p":"b3","s":"s2","t":10,"v":0.19},{"p":"b3","s":"s2","t":12,"v":0.16},{"p":"b3","s":"s2","t":14,"v":0.14},{"p":"b3","s":"s2","t":16,"v":0.13},{"p":"b3","s":"s2","t":18,"v":0.12},{"p":"b3","s":"s2","t":20,"v":0.1},{"p":"b3","s":"s2","t":22,"v":0.11},{"p":"b3","s":"s2","t":24,"v":0.115},{"p":"b3","s":"s2","t":26,"v":0.12},{"p":"b3","s":"s2","t":28,"v":0.13},{"p":"b3","s":"s2","t":30,"v":0.12},{"p":"b3","s":"s2","t":32,"v":0.13},{"p":"b3","s":"s2","t":34,"v":0.14},{"p":"b3","s":"s2","t":36,"v":0.13},{"p":"b3","s":"s2","t":38,"v":0.15},{"p":"b3","s":"s2","t":40,"v":0.14},{"p":"b3","s":"s2","t":42,"v":0.15},{"p":"b3","s":"s2","t":44,"v":0.16},{"p":"b3","s":"s2","t":46,"v":0.17},{"p":"b3","s":"s2","t":48,"v":0.19},{"p":"b3","s":"s2","t":50,"v":0.2},{"p":"b3","s":"s2","t":52,"v":0.21},{"p":"b3","s":"s2","t":54,"v":0.23},{"p":"b3","s":"s2","t":56,"v":0.25},{"p":"b3","s":"s2","t":58,"v":0.28},{"p":"b3","s":"s2","t":60,"v":0.31},{"p":"b3","s":"s2","t":62,"v":0.36},{"p":"b3","s":"s2","t":64,"v":0.41},{"p":"b3","s":"s2","t":66,"v":0.48},{"p":"b3","s":"s2","t":68,"v":0.58},{"p":"b3","s":"s2","t":70,"v":0.65},{"p":"b3","s":"s2","t":71,"v":0.72},{"p":"b3","s":"s2","t":72,"v":0.73},{"p":"b3","s":"s2","t":73,"v":0.75},{"p":"b3","s":"s2","t":74,"v":0.74},{"p":"b3","s":"s2","t":75,"v":0.78},{"p":"b3","s":"s2","t":76,"v":0.86},{"p":"b3","s":"s2","t":77,"v":0.93},{"p":"b3","s":"s2","t":78,"v":0.96},{"p":"b3","s":"s2","t":79,"v":0.95},{"p":"b3","s":"s2","t":80,"v":1.0},

      {"p":"c3","s":"s4","t":0.6,"v":0},{"p":"c3","s":"s4","t":5,"v":0.003},{"p":"c3","s":"s4","t":10,"v":0.008},{"p":"c3","s":"s4","t":20,"v":0.01},{"p":"c3","s":"s4","t":30,"v":0.015},{"p":"c3","s":"s4","t":40,"v":0.015},{"p":"c3","s":"s4","t":50,"v":0.012},{"p":"c3","s":"s4","t":55,"v":0.02},{"p":"c3","s":"s4","t":60,"v":0.015},{"p":"c3","s":"s4","t":65,"v":0.01},{"p":"c3","s":"s4","t":70,"v":0.015},{"p":"c3","s":"s4","t":75,"v":0.01},{"p":"c3","s":"s4","t":80,"v":0.008},{"p":"c3","s":"s4","t":85,"v":0.006},{"p":"c3","s":"s4","t":90,"v":0.005},{"p":"c3","s":"s4","t":95,"v":0.01},{"p":"c3","s":"s4","t":98,"v":0.02},{"p":"c3","s":"s4","t":100,"v":0.015},{"p":"c3","s":"s4","t":102,"v":0.01},{"p":"c3","s":"s4","t":104,"v":0},{"p":"c3","s":"s4","t":115,"v":0},
      {"p":"c3","s":"s3","t":0.6,"v":0},{"p":"c3","s":"s3","t":1.5,"v":0.06},{"p":"c3","s":"s3","t":2.5,"v":0.07},{"p":"c3","s":"s3","t":4,"v":0.05},{"p":"c3","s":"s3","t":6,"v":0.08},{"p":"c3","s":"s3","t":8,"v":0.075},{"p":"c3","s":"s3","t":10,"v":0.08},{"p":"c3","s":"s3","t":12,"v":0.09},{"p":"c3","s":"s3","t":14,"v":0.085},{"p":"c3","s":"s3","t":16,"v":0.09},{"p":"c3","s":"s3","t":18,"v":0.08},{"p":"c3","s":"s3","t":20,"v":0.095},{"p":"c3","s":"s3","t":22,"v":0.085},{"p":"c3","s":"s3","t":24,"v":0.08},{"p":"c3","s":"s3","t":26,"v":0.085},{"p":"c3","s":"s3","t":28,"v":0.075},{"p":"c3","s":"s3","t":30,"v":0.08},{"p":"c3","s":"s3","t":34,"v":0.075},{"p":"c3","s":"s3","t":36,"v":0.08},{"p":"c3","s":"s3","t":38,"v":0.07},{"p":"c3","s":"s3","t":40,"v":0.08},{"p":"c3","s":"s3","t":42,"v":0.075},{"p":"c3","s":"s3","t":44,"v":0.085},{"p":"c3","s":"s3","t":46,"v":0.07},{"p":"c3","s":"s3","t":48,"v":0.08},{"p":"c3","s":"s3","t":50,"v":0.075},{"p":"c3","s":"s3","t":52,"v":0.09},{"p":"c3","s":"s3","t":54,"v":0.07},{"p":"c3","s":"s3","t":56,"v":0.08},{"p":"c3","s":"s3","t":58,"v":0.085},{"p":"c3","s":"s3","t":60,"v":0.07},{"p":"c3","s":"s3","t":62,"v":0.08},{"p":"c3","s":"s3","t":64,"v":0.075},{"p":"c3","s":"s3","t":66,"v":0.085},{"p":"c3","s":"s3","t":68,"v":0.065},{"p":"c3","s":"s3","t":70,"v":0.08},{"p":"c3","s":"s3","t":72,"v":0.07},{"p":"c3","s":"s3","t":74,"v":0.075},{"p":"c3","s":"s3","t":76,"v":0.07},{"p":"c3","s":"s3","t":78,"v":0.065},{"p":"c3","s":"s3","t":80,"v":0.07},{"p":"c3","s":"s3","t":82,"v":0.06},{"p":"c3","s":"s3","t":84,"v":0.055},{"p":"c3","s":"s3","t":86,"v":0.05},{"p":"c3","s":"s3","t":88,"v":0.04},{"p":"c3","s":"s3","t":90,"v":0.03},{"p":"c3","s":"s3","t":92,"v":0.02},{"p":"c3","s":"s3","t":94,"v":0.015},{"p":"c3","s":"s3","t":96,"v":0.01},{"p":"c3","s":"s3","t":98,"v":0.005},{"p":"c3","s":"s3","t":100,"v":0.01},{"p":"c3","s":"s3","t":102,"v":0.02},{"p":"c3","s":"s3","t":104,"v":0.05},{"p":"c3","s":"s3","t":105,"v":0.1},{"p":"c3","s":"s3","t":106,"v":0.21},{"p":"c3","s":"s3","t":107,"v":0.08},{"p":"c3","s":"s3","t":108,"v":0},{"p":"c3","s":"s3","t":115,"v":0},
      {"p":"c3","s":"s1","t":0.6,"v":0.6},{"p":"c3","s":"s1","t":1.5,"v":0.69},{"p":"c3","s":"s1","t":2.5,"v":0.64},{"p":"c3","s":"s1","t":3.5,"v":0.62},{"p":"c3","s":"s1","t":4.5,"v":0.67},{"p":"c3","s":"s1","t":6,"v":0.68},{"p":"c3","s":"s1","t":8,"v":0.7},{"p":"c3","s":"s1","t":10,"v":0.72},{"p":"c3","s":"s1","t":12,"v":0.73},{"p":"c3","s":"s1","t":14,"v":0.74},{"p":"c3","s":"s1","t":16,"v":0.75},{"p":"c3","s":"s1","t":18,"v":0.77},{"p":"c3","s":"s1","t":20,"v":0.76},{"p":"c3","s":"s1","t":22,"v":0.78},{"p":"c3","s":"s1","t":24,"v":0.77},{"p":"c3","s":"s1","t":26,"v":0.79},{"p":"c3","s":"s1","t":28,"v":0.8},{"p":"c3","s":"s1","t":30,"v":0.79},{"p":"c3","s":"s1","t":32,"v":0.8},{"p":"c3","s":"s1","t":34,"v":0.815},{"p":"c3","s":"s1","t":36,"v":0.8},{"p":"c3","s":"s1","t":38,"v":0.81},{"p":"c3","s":"s1","t":40,"v":0.79},{"p":"c3","s":"s1","t":42,"v":0.8},{"p":"c3","s":"s1","t":44,"v":0.78},{"p":"c3","s":"s1","t":46,"v":0.79},{"p":"c3","s":"s1","t":48,"v":0.785},{"p":"c3","s":"s1","t":50,"v":0.77},{"p":"c3","s":"s1","t":52,"v":0.79},{"p":"c3","s":"s1","t":54,"v":0.76},{"p":"c3","s":"s1","t":56,"v":0.75},{"p":"c3","s":"s1","t":58,"v":0.76},{"p":"c3","s":"s1","t":60,"v":0.74},{"p":"c3","s":"s1","t":62,"v":0.775},{"p":"c3","s":"s1","t":64,"v":0.74},{"p":"c3","s":"s1","t":66,"v":0.73},{"p":"c3","s":"s1","t":68,"v":0.72},{"p":"c3","s":"s1","t":70,"v":0.7},{"p":"c3","s":"s1","t":72,"v":0.71},{"p":"c3","s":"s1","t":74,"v":0.68},{"p":"c3","s":"s1","t":76,"v":0.67},{"p":"c3","s":"s1","t":78,"v":0.65},{"p":"c3","s":"s1","t":80,"v":0.6},{"p":"c3","s":"s1","t":82,"v":0.61},{"p":"c3","s":"s1","t":84,"v":0.56},{"p":"c3","s":"s1","t":86,"v":0.53},{"p":"c3","s":"s1","t":88,"v":0.48},{"p":"c3","s":"s1","t":90,"v":0.44},{"p":"c3","s":"s1","t":92,"v":0.38},{"p":"c3","s":"s1","t":93,"v":0.3},{"p":"c3","s":"s1","t":94,"v":0.36},{"p":"c3","s":"s1","t":96,"v":0.38},{"p":"c3","s":"s1","t":98,"v":0.35},{"p":"c3","s":"s1","t":100,"v":0.38},{"p":"c3","s":"s1","t":101,"v":0.48},{"p":"c3","s":"s1","t":102,"v":0.38},{"p":"c3","s":"s1","t":103,"v":0.3},{"p":"c3","s":"s1","t":104,"v":0.41},{"p":"c3","s":"s1","t":105,"v":0.36},{"p":"c3","s":"s1","t":106,"v":0.25},{"p":"c3","s":"s1","t":107,"v":0.2},{"p":"c3","s":"s1","t":108,"v":0.05},{"p":"c3","s":"s1","t":109,"v":0},
      {"p":"c3","s":"s2","t":0.6,"v":0.35},{"p":"c3","s":"s2","t":2,"v":0.32},{"p":"c3","s":"s2","t":4,"v":0.31},{"p":"c3","s":"s2","t":6,"v":0.27},{"p":"c3","s":"s2","t":8,"v":0.23},{"p":"c3","s":"s2","t":10,"v":0.2},{"p":"c3","s":"s2","t":12,"v":0.18},{"p":"c3","s":"s2","t":14,"v":0.17},{"p":"c3","s":"s2","t":16,"v":0.15},{"p":"c3","s":"s2","t":18,"v":0.14},{"p":"c3","s":"s2","t":20,"v":0.13},{"p":"c3","s":"s2","t":22,"v":0.125},{"p":"c3","s":"s2","t":24,"v":0.12},{"p":"c3","s":"s2","t":26,"v":0.115},{"p":"c3","s":"s2","t":28,"v":0.11},{"p":"c3","s":"s2","t":30,"v":0.105},{"p":"c3","s":"s2","t":32,"v":0.1},{"p":"c3","s":"s2","t":34,"v":0.105},{"p":"c3","s":"s2","t":36,"v":0.1},{"p":"c3","s":"s2","t":38,"v":0.11},{"p":"c3","s":"s2","t":40,"v":0.12},{"p":"c3","s":"s2","t":42,"v":0.115},{"p":"c3","s":"s2","t":44,"v":0.13},{"p":"c3","s":"s2","t":46,"v":0.125},{"p":"c3","s":"s2","t":48,"v":0.12},{"p":"c3","s":"s2","t":50,"v":0.135},{"p":"c3","s":"s2","t":52,"v":0.13},{"p":"c3","s":"s2","t":54,"v":0.14},{"p":"c3","s":"s2","t":56,"v":0.15},{"p":"c3","s":"s2","t":58,"v":0.145},{"p":"c3","s":"s2","t":60,"v":0.16},{"p":"c3","s":"s2","t":62,"v":0.17},{"p":"c3","s":"s2","t":64,"v":0.18},{"p":"c3","s":"s2","t":66,"v":0.2},{"p":"c3","s":"s2","t":68,"v":0.21},{"p":"c3","s":"s2","t":70,"v":0.23},{"p":"c3","s":"s2","t":72,"v":0.25},{"p":"c3","s":"s2","t":74,"v":0.27},{"p":"c3","s":"s2","t":76,"v":0.3},{"p":"c3","s":"s2","t":78,"v":0.32},{"p":"c3","s":"s2","t":80,"v":0.34},{"p":"c3","s":"s2","t":82,"v":0.38},{"p":"c3","s":"s2","t":84,"v":0.42},{"p":"c3","s":"s2","t":86,"v":0.46},{"p":"c3","s":"s2","t":88,"v":0.53},{"p":"c3","s":"s2","t":90,"v":0.6},{"p":"c3","s":"s2","t":91,"v":0.66},{"p":"c3","s":"s2","t":92,"v":0.62},{"p":"c3","s":"s2","t":93,"v":0.64},{"p":"c3","s":"s2","t":94,"v":0.6},{"p":"c3","s":"s2","t":96,"v":0.63},{"p":"c3","s":"s2","t":98,"v":0.61},{"p":"c3","s":"s2","t":100,"v":0.55},{"p":"c3","s":"s2","t":101,"v":0.4},{"p":"c3","s":"s2","t":102,"v":0.6},{"p":"c3","s":"s2","t":103,"v":0.66},{"p":"c3","s":"s2","t":104,"v":0.64},{"p":"c3","s":"s2","t":105,"v":0.66},{"p":"c3","s":"s2","t":106,"v":0.75},{"p":"c3","s":"s2","t":107,"v":0.85},{"p":"c3","s":"s2","t":108,"v":0.95},{"p":"c3","s":"s2","t":109,"v":0.99},{"p":"c3","s":"s2","t":110,"v":1.0},{"p":"c3","s":"s2","t":115,"v":1.0},

      {"p":"d3","s":"s4","t":0.6,"v":0},{"p":"d3","s":"s4","t":4,"v":0.005},{"p":"d3","s":"s4","t":8,"v":0.01},{"p":"d3","s":"s4","t":12,"v":0.02},{"p":"d3","s":"s4","t":16,"v":0.03},{"p":"d3","s":"s4","t":20,"v":0.04},{"p":"d3","s":"s4","t":24,"v":0.05},{"p":"d3","s":"s4","t":28,"v":0.055},{"p":"d3","s":"s4","t":32,"v":0.055},{"p":"d3","s":"s4","t":36,"v":0.06},{"p":"d3","s":"s4","t":40,"v":0.055},{"p":"d3","s":"s4","t":44,"v":0.06},{"p":"d3","s":"s4","t":48,"v":0.05},{"p":"d3","s":"s4","t":52,"v":0.06},{"p":"d3","s":"s4","t":56,"v":0.05},{"p":"d3","s":"s4","t":60,"v":0.04},{"p":"d3","s":"s4","t":62,"v":0.035},{"p":"d3","s":"s4","t":64,"v":0.02},{"p":"d3","s":"s4","t":66,"v":0.01},{"p":"d3","s":"s4","t":68,"v":0},{"p":"d3","s":"s4","t":74,"v":0},
      {"p":"d3","s":"s3","t":0.6,"v":0},{"p":"d3","s":"s3","t":2,"v":0.1},{"p":"d3","s":"s3","t":3,"v":0.17},{"p":"d3","s":"s3","t":4,"v":0.2},{"p":"d3","s":"s3","t":6,"v":0.23},{"p":"d3","s":"s3","t":8,"v":0.24},{"p":"d3","s":"s3","t":10,"v":0.25},{"p":"d3","s":"s3","t":12,"v":0.22},{"p":"d3","s":"s3","t":14,"v":0.2},{"p":"d3","s":"s3","t":16,"v":0.2},{"p":"d3","s":"s3","t":18,"v":0.22},{"p":"d3","s":"s3","t":20,"v":0.2},{"p":"d3","s":"s3","t":22,"v":0.21},{"p":"d3","s":"s3","t":24,"v":0.2},{"p":"d3","s":"s3","t":26,"v":0.19},{"p":"d3","s":"s3","t":28,"v":0.2},{"p":"d3","s":"s3","t":30,"v":0.19},{"p":"d3","s":"s3","t":32,"v":0.21},{"p":"d3","s":"s3","t":34,"v":0.2},{"p":"d3","s":"s3","t":36,"v":0.22},{"p":"d3","s":"s3","t":38,"v":0.21},{"p":"d3","s":"s3","t":40,"v":0.23},{"p":"d3","s":"s3","t":42,"v":0.22},{"p":"d3","s":"s3","t":44,"v":0.24},{"p":"d3","s":"s3","t":46,"v":0.25},{"p":"d3","s":"s3","t":48,"v":0.26},{"p":"d3","s":"s3","t":50,"v":0.27},{"p":"d3","s":"s3","t":52,"v":0.3},{"p":"d3","s":"s3","t":54,"v":0.3},{"p":"d3","s":"s3","t":56,"v":0.31},{"p":"d3","s":"s3","t":57,"v":0.32},{"p":"d3","s":"s3","t":58,"v":0.29},{"p":"d3","s":"s3","t":59,"v":0.25},{"p":"d3","s":"s3","t":60,"v":0.21},{"p":"d3","s":"s3","t":62,"v":0.18},{"p":"d3","s":"s3","t":63,"v":0.2},{"p":"d3","s":"s3","t":64,"v":0.14},{"p":"d3","s":"s3","t":65,"v":0.05},{"p":"d3","s":"s3","t":66,"v":0},{"p":"d3","s":"s3","t":74,"v":0},
      {"p":"d3","s":"s1","t":0.6,"v":0.65},{"p":"d3","s":"s1","t":1.5,"v":0.7},{"p":"d3","s":"s1","t":2.5,"v":0.6},{"p":"d3","s":"s1","t":3.5,"v":0.62},{"p":"d3","s":"s1","t":4.5,"v":0.58},{"p":"d3","s":"s1","t":6,"v":0.56},{"p":"d3","s":"s1","t":8,"v":0.54},{"p":"d3","s":"s1","t":10,"v":0.57},{"p":"d3","s":"s1","t":12,"v":0.6},{"p":"d3","s":"s1","t":14,"v":0.61},{"p":"d3","s":"s1","t":16,"v":0.64},{"p":"d3","s":"s1","t":17,"v":0.67},{"p":"d3","s":"s1","t":18,"v":0.65},{"p":"d3","s":"s1","t":20,"v":0.66},{"p":"d3","s":"s1","t":22,"v":0.63},{"p":"d3","s":"s1","t":24,"v":0.64},{"p":"d3","s":"s1","t":26,"v":0.62},{"p":"d3","s":"s1","t":28,"v":0.63},{"p":"d3","s":"s1","t":30,"v":0.61},{"p":"d3","s":"s1","t":32,"v":0.62},{"p":"d3","s":"s1","t":34,"v":0.6},{"p":"d3","s":"s1","t":36,"v":0.61},{"p":"d3","s":"s1","t":38,"v":0.58},{"p":"d3","s":"s1","t":40,"v":0.57},{"p":"d3","s":"s1","t":42,"v":0.55},{"p":"d3","s":"s1","t":44,"v":0.52},{"p":"d3","s":"s1","t":46,"v":0.48},{"p":"d3","s":"s1","t":48,"v":0.43},{"p":"d3","s":"s1","t":50,"v":0.39},{"p":"d3","s":"s1","t":52,"v":0.34},{"p":"d3","s":"s1","t":54,"v":0.3},{"p":"d3","s":"s1","t":56,"v":0.25},{"p":"d3","s":"s1","t":58,"v":0.2},{"p":"d3","s":"s1","t":60,"v":0.16},{"p":"d3","s":"s1","t":62,"v":0.12},{"p":"d3","s":"s1","t":64,"v":0.06},{"p":"d3","s":"s1","t":65,"v":0.08},{"p":"d3","s":"s1","t":66,"v":0.03},{"p":"d3","s":"s1","t":67,"v":0.01},{"p":"d3","s":"s1","t":68,"v":0},
      {"p":"d3","s":"s2","t":0.6,"v":0.35},{"p":"d3","s":"s2","t":2,"v":0.32},{"p":"d3","s":"s2","t":3,"v":0.33},{"p":"d3","s":"s2","t":4,"v":0.3},{"p":"d3","s":"s2","t":6,"v":0.27},{"p":"d3","s":"s2","t":8,"v":0.23},{"p":"d3","s":"s2","t":10,"v":0.2},{"p":"d3","s":"s2","t":12,"v":0.16},{"p":"d3","s":"s2","t":14,"v":0.13},{"p":"d3","s":"s2","t":16,"v":0.12},{"p":"d3","s":"s2","t":18,"v":0.115},{"p":"d3","s":"s2","t":20,"v":0.125},{"p":"d3","s":"s2","t":22,"v":0.12},{"p":"d3","s":"s2","t":24,"v":0.13},{"p":"d3","s":"s2","t":26,"v":0.12},{"p":"d3","s":"s2","t":28,"v":0.135},{"p":"d3","s":"s2","t":30,"v":0.14},{"p":"d3","s":"s2","t":32,"v":0.14},{"p":"d3","s":"s2","t":34,"v":0.15},{"p":"d3","s":"s2","t":36,"v":0.16},{"p":"d3","s":"s2","t":38,"v":0.18},{"p":"d3","s":"s2","t":40,"v":0.2},{"p":"d3","s":"s2","t":42,"v":0.22},{"p":"d3","s":"s2","t":44,"v":0.25},{"p":"d3","s":"s2","t":46,"v":0.26},{"p":"d3","s":"s2","t":48,"v":0.29},{"p":"d3","s":"s2","t":50,"v":0.31},{"p":"d3","s":"s2","t":52,"v":0.34},{"p":"d3","s":"s2","t":54,"v":0.4},{"p":"d3","s":"s2","t":56,"v":0.5},{"p":"d3","s":"s2","t":58,"v":0.56},{"p":"d3","s":"s2","t":60,"v":0.63},{"p":"d3","s":"s2","t":62,"v":0.7},{"p":"d3","s":"s2","t":64,"v":0.76},{"p":"d3","s":"s2","t":66,"v":0.88},{"p":"d3","s":"s2","t":67,"v":0.95},{"p":"d3","s":"s2","t":68,"v":1.0},{"p":"d3","s":"s2","t":74,"v":1.0}
    ],
    "band": [
      {"p":"a2","t":0.5,"lo":0.3,"hi":0.42},{"p":"a2","t":2,"lo":0.3,"hi":0.47},{"p":"a2","t":4,"lo":0.33,"hi":0.52},{"p":"a2","t":6,"lo":0.37,"hi":0.55},{"p":"a2","t":8,"lo":0.4,"hi":0.55},{"p":"a2","t":10,"lo":0.4,"hi":0.57},{"p":"a2","t":12,"lo":0.41,"hi":0.59},{"p":"a2","t":14,"lo":0.42,"hi":0.57},{"p":"a2","t":16,"lo":0.43,"hi":0.58},{"p":"a2","t":18,"lo":0.4,"hi":0.59},{"p":"a2","t":20,"lo":0.38,"hi":0.62},{"p":"a2","t":22,"lo":0.37,"hi":0.55},{"p":"a2","t":24,"lo":0.35,"hi":0.5},{"p":"a2","t":26,"lo":0.34,"hi":0.48},{"p":"a2","t":28,"lo":0.33,"hi":0.47},{"p":"a2","t":30,"lo":0.32,"hi":0.46},{"p":"a2","t":33,"lo":0.32,"hi":0.45},{"p":"a2","t":36,"lo":0.31,"hi":0.43},{"p":"a2","t":40,"lo":0.32,"hi":0.44},{"p":"a2","t":44,"lo":0.32,"hi":0.43},{"p":"a2","t":48,"lo":0.31,"hi":0.44},{"p":"a2","t":52,"lo":0.32,"hi":0.42},{"p":"a2","t":56,"lo":0.31,"hi":0.43},{"p":"a2","t":60,"lo":0.32,"hi":0.42},{"p":"a2","t":63,"lo":0.33,"hi":0.45},{"p":"a2","t":66,"lo":0.32,"hi":0.47},{"p":"a2","t":69,"lo":0.3,"hi":0.5},{"p":"a2","t":72,"lo":0.28,"hi":0.52},{"p":"a2","t":75,"lo":0.3,"hi":0.53},{"p":"a2","t":78,"lo":0.35,"hi":0.5},{"p":"a2","t":80,"lo":0.4,"hi":0.5},
      {"p":"b2","t":0.5,"lo":0.27,"hi":0.42},{"p":"b2","t":2,"lo":0.3,"hi":0.42},{"p":"b2","t":4,"lo":0.34,"hi":0.45},{"p":"b2","t":6,"lo":0.36,"hi":0.48},{"p":"b2","t":8,"lo":0.38,"hi":0.5},{"p":"b2","t":10,"lo":0.4,"hi":0.53},{"p":"b2","t":12,"lo":0.43,"hi":0.55},{"p":"b2","t":14,"lo":0.45,"hi":0.57},{"p":"b2","t":16,"lo":0.46,"hi":0.58},{"p":"b2","t":18,"lo":0.48,"hi":0.6},{"p":"b2","t":20,"lo":0.48,"hi":0.6},{"p":"b2","t":22,"lo":0.5,"hi":0.63},{"p":"b2","t":24,"lo":0.5,"hi":0.66},{"p":"b2","t":26,"lo":0.52,"hi":0.65},{"p":"b2","t":28,"lo":0.53,"hi":0.64},{"p":"b2","t":30,"lo":0.54,"hi":0.66},{"p":"b2","t":32,"lo":0.55,"hi":0.68},{"p":"b2","t":34,"lo":0.56,"hi":0.67},{"p":"b2","t":36,"lo":0.47,"hi":0.68},{"p":"b2","t":38,"lo":0.45,"hi":0.7},{"p":"b2","t":40,"lo":0.47,"hi":0.7},{"p":"b2","t":42,"lo":0.5,"hi":0.72},{"p":"b2","t":44,"lo":0.52,"hi":0.74},{"p":"b2","t":46,"lo":0.54,"hi":0.77},{"p":"b2","t":48,"lo":0.55,"hi":0.78},{"p":"b2","t":50,"lo":0.55,"hi":0.8},{"p":"b2","t":52,"lo":0.53,"hi":0.82},{"p":"b2","t":54,"lo":0.52,"hi":0.84},{"p":"b2","t":56,"lo":0.5,"hi":0.82},{"p":"b2","t":58,"lo":0.48,"hi":0.84},{"p":"b2","t":60,"lo":0.45,"hi":0.83},{"p":"b2","t":62,"lo":0.38,"hi":0.8},{"p":"b2","t":64,"lo":0.3,"hi":0.78},{"p":"b2","t":66,"lo":0.2,"hi":0.7},{"p":"b2","t":68,"lo":0.1,"hi":0.55},{"p":"b2","t":69,"lo":0.1,"hi":0.4},
      {"p":"c2","t":0.5,"lo":0.3,"hi":0.42},{"p":"c2","t":2,"lo":0.32,"hi":0.41},{"p":"c2","t":4,"lo":0.33,"hi":0.42},{"p":"c2","t":6,"lo":0.35,"hi":0.42},{"p":"c2","t":8,"lo":0.36,"hi":0.43},{"p":"c2","t":10,"lo":0.36,"hi":0.44},{"p":"c2","t":13,"lo":0.37,"hi":0.45},{"p":"c2","t":16,"lo":0.38,"hi":0.45},{"p":"c2","t":20,"lo":0.39,"hi":0.46},{"p":"c2","t":24,"lo":0.4,"hi":0.47},{"p":"c2","t":28,"lo":0.41,"hi":0.5},{"p":"c2","t":32,"lo":0.42,"hi":0.5},{"p":"c2","t":36,"lo":0.42,"hi":0.5},{"p":"c2","t":40,"lo":0.43,"hi":0.52},{"p":"c2","t":44,"lo":0.43,"hi":0.53},{"p":"c2","t":48,"lo":0.44,"hi":0.55},{"p":"c2","t":52,"lo":0.44,"hi":0.55},{"p":"c2","t":56,"lo":0.46,"hi":0.57},{"p":"c2","t":60,"lo":0.47,"hi":0.6},{"p":"c2","t":64,"lo":0.48,"hi":0.63},{"p":"c2","t":68,"lo":0.5,"hi":0.66},{"p":"c2","t":72,"lo":0.5,"hi":0.7},{"p":"c2","t":76,"lo":0.52,"hi":0.75},{"p":"c2","t":80,"lo":0.5,"hi":0.78},{"p":"c2","t":83,"lo":0.47,"hi":0.8},{"p":"c2","t":85,"lo":0.42,"hi":0.75},{"p":"c2","t":87,"lo":0.35,"hi":0.7},{"p":"c2","t":88,"lo":0.3,"hi":0.65},
      {"p":"d2","t":0.5,"lo":0.28,"hi":0.42},{"p":"d2","t":2,"lo":0.3,"hi":0.43},{"p":"d2","t":4,"lo":0.33,"hi":0.45},{"p":"d2","t":6,"lo":0.36,"hi":0.47},{"p":"d2","t":8,"lo":0.38,"hi":0.49},{"p":"d2","t":10,"lo":0.4,"hi":0.52},{"p":"d2","t":12,"lo":0.43,"hi":0.55},{"p":"d2","t":14,"lo":0.46,"hi":0.57},{"p":"d2","t":16,"lo":0.49,"hi":0.6},{"p":"d2","t":18,"lo":0.51,"hi":0.62},{"p":"d2","t":20,"lo":0.53,"hi":0.64},{"p":"d2","t":22,"lo":0.56,"hi":0.67},{"p":"d2","t":24,"lo":0.58,"hi":0.68},{"p":"d2","t":26,"lo":0.6,"hi":0.71},{"p":"d2","t":28,"lo":0.61,"hi":0.74},{"p":"d2","t":30,"lo":0.63,"hi":0.77},{"p":"d2","t":32,"lo":0.64,"hi":0.8},{"p":"d2","t":34,"lo":0.66,"hi":0.83},{"p":"d2","t":36,"lo":0.67,"hi":0.84},{"p":"d2","t":38,"lo":0.68,"hi":0.87},{"p":"d2","t":40,"lo":0.69,"hi":0.86},{"p":"d2","t":42,"lo":0.69,"hi":0.88},{"p":"d2","t":44,"lo":0.66,"hi":0.88},{"p":"d2","t":46,"lo":0.64,"hi":0.86},{"p":"d2","t":48,"lo":0.6,"hi":0.85},{"p":"d2","t":50,"lo":0.55,"hi":0.83},{"p":"d2","t":52,"lo":0.5,"hi":0.8},{"p":"d2","t":54,"lo":0.42,"hi":0.77},{"p":"d2","t":56,"lo":0.32,"hi":0.72},{"p":"d2","t":58,"lo":0.2,"hi":0.6},{"p":"d2","t":59,"lo":0.12,"hi":0.45},{"p":"d2","t":60,"lo":0.05,"hi":0.35},{"p":"d2","t":61,"lo":0.05,"hi":0.2}
    ],
    "pts": [
      {"p":"a2","t":0.5,"v":0.62},{"p":"a2","t":0.5,"v":0.45},{"p":"a2","t":0.5,"v":0.38},{"p":"a2","t":0.5,"v":0.14},{"p":"a2","t":0.5,"v":0.07},{"p":"a2","t":0.5,"v":0},{"p":"a2","t":1,"v":0.25},{"p":"a2","t":1.5,"v":0.22},{"p":"a2","t":2,"v":0.44},{"p":"a2","t":3,"v":0.48},{"p":"a2","t":5,"v":0.53},{"p":"a2","t":7,"v":0.56},{"p":"a2","t":9,"v":0.58},{"p":"a2","t":11,"v":0.38},{"p":"a2","t":13,"v":0.6},{"p":"a2","t":15,"v":0.4},{"p":"a2","t":17,"v":0.6},{"p":"a2","t":19,"v":0.61},{"p":"a2","t":20,"v":0.62},{"p":"a2","t":21,"v":0.6},{"p":"a2","t":22,"v":0.57},{"p":"a2","t":23,"v":0.36},{"p":"a2","t":25,"v":0.52},{"p":"a2","t":27,"v":0.32},{"p":"a2","t":30,"v":0.47},{"p":"a2","t":33,"v":0.31},{"p":"a2","t":36,"v":0.45},{"p":"a2","t":40,"v":0.3},{"p":"a2","t":45,"v":0.45},{"p":"a2","t":50,"v":0.3},{"p":"a2","t":55,"v":0.45},{"p":"a2","t":60,"v":0.31},{"p":"a2","t":64,"v":0.47},{"p":"a2","t":67,"v":0.3},{"p":"a2","t":68,"v":0.49},{"p":"a2","t":70,"v":0.52},{"p":"a2","t":71,"v":0.27},{"p":"a2","t":72,"v":0.55},{"p":"a2","t":73,"v":0.47},{"p":"a2","t":74,"v":0.55},{"p":"a2","t":75,"v":0.28},{"p":"a2","t":76,"v":0.58},{"p":"a2","t":76.5,"v":0.32},{"p":"a2","t":77,"v":0.5},{"p":"a2","t":77.5,"v":0.45},{"p":"a2","t":78,"v":0.67},{"p":"a2","t":79,"v":0.67},{"p":"a2","t":79.5,"v":0.6},{"p":"a2","t":80,"v":0.57},{"p":"a2","t":80.5,"v":0.46},{"p":"a2","t":81,"v":0.52},
      {"p":"a2","t":71,"v":0},{"p":"a2","t":72,"v":0},{"p":"a2","t":73,"v":0},{"p":"a2","t":74,"v":0},{"p":"a2","t":75,"v":0},{"p":"a2","t":76,"v":0},{"p":"a2","t":77,"v":0},{"p":"a2","t":78,"v":0},{"p":"a2","t":79,"v":0},{"p":"a2","t":80,"v":0},{"p":"a2","t":81,"v":0},{"p":"a2","t":82,"v":0},{"p":"a2","t":83,"v":0},{"p":"a2","t":84,"v":0},{"p":"a2","t":85,"v":0},{"p":"a2","t":86,"v":0},{"p":"a2","t":87,"v":0},
      {"p":"b2","t":0.5,"v":0.62},{"p":"b2","t":0.5,"v":0.4},{"p":"b2","t":0.5,"v":0.22},{"p":"b2","t":0.5,"v":0.14},{"p":"b2","t":0.5,"v":0.07},{"p":"b2","t":0.5,"v":0},{"p":"b2","t":3,"v":0.47},{"p":"b2","t":6,"v":0.5},{"p":"b2","t":10,"v":0.55},{"p":"b2","t":15,"v":0.6},{"p":"b2","t":20,"v":0.63},{"p":"b2","t":22,"v":0.45},{"p":"b2","t":25,"v":0.68},{"p":"b2","t":30,"v":0.5},{"p":"b2","t":33,"v":0.7},{"p":"b2","t":36,"v":0.44},{"p":"b2","t":38,"v":0.42},{"p":"b2","t":40,"v":0.74},{"p":"b2","t":44,"v":0.78},{"p":"b2","t":48,"v":0.49},{"p":"b2","t":50,"v":0.83},{"p":"b2","t":52,"v":0.5},{"p":"b2","t":54,"v":0.86},{"p":"b2","t":56,"v":0.45},{"p":"b2","t":58,"v":0.87},{"p":"b2","t":60,"v":0.86},{"p":"b2","t":61,"v":0.9},{"p":"b2","t":62,"v":0.97},{"p":"b2","t":62.5,"v":0.88},{"p":"b2","t":63,"v":0.94},{"p":"b2","t":63.5,"v":0.42},{"p":"b2","t":64,"v":0.85},{"p":"b2","t":64.5,"v":0.3},{"p":"b2","t":65,"v":0.8},{"p":"b2","t":65.5,"v":0.2},{"p":"b2","t":66,"v":0.75},{"p":"b2","t":66.5,"v":0.12},{"p":"b2","t":67,"v":0.3},{"p":"b2","t":67.5,"v":0.6},{"p":"b2","t":68,"v":0.2},{"p":"b2","t":69,"v":0.3},{"p":"b2","t":70,"v":0.05},
      {"p":"b2","t":65,"v":0},{"p":"b2","t":66,"v":0},{"p":"b2","t":67,"v":0},{"p":"b2","t":68,"v":0},{"p":"b2","t":69,"v":0},{"p":"b2","t":70,"v":0},{"p":"b2","t":71,"v":0},{"p":"b2","t":72,"v":0},{"p":"b2","t":73,"v":0},{"p":"b2","t":74,"v":0},{"p":"b2","t":75,"v":0},{"p":"b2","t":76,"v":0},{"p":"b2","t":77,"v":0},{"p":"b2","t":78,"v":0},{"p":"b2","t":79,"v":0},{"p":"b2","t":80,"v":0},
      {"p":"c2","t":0.5,"v":0},{"p":"c2","t":0.5,"v":0.16},{"p":"c2","t":0.5,"v":0.25},{"p":"c2","t":0.5,"v":0.43},{"p":"c2","t":5,"v":0.44},{"p":"c2","t":10,"v":0.33},{"p":"c2","t":15,"v":0.47},{"p":"c2","t":20,"v":0.37},{"p":"c2","t":25,"v":0.5},{"p":"c2","t":30,"v":0.39},{"p":"c2","t":35,"v":0.53},{"p":"c2","t":40,"v":0.41},{"p":"c2","t":45,"v":0.56},{"p":"c2","t":50,"v":0.42},{"p":"c2","t":55,"v":0.6},{"p":"c2","t":60,"v":0.44},{"p":"c2","t":62,"v":0.64},{"p":"c2","t":65,"v":0.68},{"p":"c2","t":68,"v":0.47},{"p":"c2","t":70,"v":0.72},{"p":"c2","t":73,"v":0.75},{"p":"c2","t":75,"v":0.48},{"p":"c2","t":77,"v":0.8},{"p":"c2","t":79,"v":0.82},{"p":"c2","t":80,"v":0.46},{"p":"c2","t":82,"v":0.83},{"p":"c2","t":84,"v":0.4},{"p":"c2","t":85,"v":0.79},{"p":"c2","t":86,"v":0.72},{"p":"c2","t":87,"v":0.65},{"p":"c2","t":88,"v":0.93},{"p":"c2","t":88.5,"v":0.2},{"p":"c2","t":89,"v":0.82},{"p":"c2","t":89.5,"v":0.12},{"p":"c2","t":90,"v":0.87},{"p":"c2","t":90.5,"v":0.38},{"p":"c2","t":91,"v":0.7},{"p":"c2","t":91.5,"v":0.45},{"p":"c2","t":92,"v":0.6},{"p":"c2","t":92.5,"v":0.3},{"p":"c2","t":93,"v":0.55},{"p":"c2","t":94,"v":0.5},{"p":"c2","t":95,"v":0.52},{"p":"c2","t":96,"v":0.5},{"p":"c2","t":97,"v":0.48},{"p":"c2","t":98,"v":0.5},{"p":"c2","t":99,"v":0.52},{"p":"c2","t":100,"v":0.5},{"p":"c2","t":101,"v":0.74},{"p":"c2","t":103,"v":0.5},{"p":"c2","t":107,"v":0.19},{"p":"c2","t":107.5,"v":0.17},
      {"p":"c2","t":88,"v":0},{"p":"c2","t":89,"v":0},{"p":"c2","t":90,"v":0},{"p":"c2","t":91,"v":0},{"p":"c2","t":92,"v":0},{"p":"c2","t":93,"v":0},{"p":"c2","t":94,"v":0},{"p":"c2","t":95,"v":0},{"p":"c2","t":96,"v":0},{"p":"c2","t":97,"v":0},{"p":"c2","t":98,"v":0},{"p":"c2","t":99,"v":0},{"p":"c2","t":100,"v":0},{"p":"c2","t":101,"v":0},{"p":"c2","t":102,"v":0},{"p":"c2","t":103,"v":0},{"p":"c2","t":104,"v":0},{"p":"c2","t":105,"v":0},{"p":"c2","t":106,"v":0},{"p":"c2","t":107,"v":0},{"p":"c2","t":108,"v":0},{"p":"c2","t":109,"v":0},{"p":"c2","t":110,"v":0},{"p":"c2","t":111,"v":0},{"p":"c2","t":112,"v":0},{"p":"c2","t":113,"v":0},{"p":"c2","t":114,"v":0},{"p":"c2","t":115,"v":0},{"p":"c2","t":116,"v":0},
      {"p":"d2","t":0.5,"v":0},{"p":"d2","t":0.5,"v":0.15},{"p":"d2","t":0.5,"v":0.42},{"p":"d2","t":4,"v":0.47},{"p":"d2","t":8,"v":0.51},{"p":"d2","t":12,"v":0.41},{"p":"d2","t":16,"v":0.62},{"p":"d2","t":20,"v":0.5},{"p":"d2","t":24,"v":0.7},{"p":"d2","t":28,"v":0.59},{"p":"d2","t":32,"v":0.82},{"p":"d2","t":36,"v":0.65},{"p":"d2","t":38,"v":0.88},{"p":"d2","t":40,"v":0.66},{"p":"d2","t":42,"v":0.89},{"p":"d2","t":44,"v":0.63},{"p":"d2","t":46,"v":0.88},{"p":"d2","t":48,"v":0.57},{"p":"d2","t":50,"v":0.85},{"p":"d2","t":52,"v":0.47},{"p":"d2","t":54,"v":0.8},{"p":"d2","t":55,"v":0.38},{"p":"d2","t":56,"v":0.75},{"p":"d2","t":57,"v":0.74},{"p":"d2","t":57.5,"v":0.28},{"p":"d2","t":58,"v":0.78},{"p":"d2","t":58.5,"v":0.15},{"p":"d2","t":59,"v":0.7},{"p":"d2","t":60,"v":0.86},{"p":"d2","t":60.5,"v":0.3},{"p":"d2","t":61,"v":0.25},{"p":"d2","t":61.5,"v":0.32},{"p":"d2","t":62,"v":0.22},{"p":"d2","t":63,"v":0.1},
      {"p":"d2","t":58,"v":0},{"p":"d2","t":59,"v":0},{"p":"d2","t":60,"v":0},{"p":"d2","t":61,"v":0},{"p":"d2","t":62,"v":0},{"p":"d2","t":63,"v":0},{"p":"d2","t":64,"v":0},{"p":"d2","t":65,"v":0},{"p":"d2","t":66,"v":0},{"p":"d2","t":67,"v":0},{"p":"d2","t":68,"v":0},{"p":"d2","t":69,"v":0},{"p":"d2","t":70,"v":0},{"p":"d2","t":71,"v":0},{"p":"d2","t":72,"v":0},{"p":"d2","t":73,"v":0},{"p":"d2","t":74,"v":0}
    ],
    "fit": [
      {"p":"a2","t":0.6,"v":0.23},{"p":"a2","t":2,"v":0.33},{"p":"a2","t":3.5,"v":0.38},{"p":"a2","t":5,"v":0.42},{"p":"a2","t":7,"v":0.455},{"p":"a2","t":9.5,"v":0.48},{"p":"a2","t":12.5,"v":0.495},{"p":"a2","t":15,"v":0.485},{"p":"a2","t":17,"v":0.47},{"p":"a2","t":20,"v":0.445},{"p":"a2","t":23,"v":0.42},{"p":"a2","t":26,"v":0.395},{"p":"a2","t":29,"v":0.38},{"p":"a2","t":32,"v":0.375},{"p":"a2","t":35,"v":0.375},{"p":"a2","t":41,"v":0.375},{"p":"a2","t":47,"v":0.375},{"p":"a2","t":51,"v":0.37},{"p":"a2","t":54,"v":0.365},{"p":"a2","t":58,"v":0.368},{"p":"a2","t":62,"v":0.38},{"p":"a2","t":65,"v":0.39},{"p":"a2","t":68,"v":0.395},{"p":"a2","t":70,"v":0.39},{"p":"a2","t":71,"v":0.37},{"p":"a2","t":72.5,"v":0.33},{"p":"a2","t":74,"v":0.28},{"p":"a2","t":76,"v":0.2},{"p":"a2","t":78,"v":0.13},{"p":"a2","t":80,"v":0.07},{"p":"a2","t":82,"v":0.02},{"p":"a2","t":83.5,"v":-0.03},
      {"p":"b2","t":0.6,"v":0.22},{"p":"b2","t":2,"v":0.29},{"p":"b2","t":3.7,"v":0.33},{"p":"b2","t":6,"v":0.38},{"p":"b2","t":9.8,"v":0.43},{"p":"b2","t":13,"v":0.47},{"p":"b2","t":16,"v":0.495},{"p":"b2","t":20,"v":0.52},{"p":"b2","t":24.8,"v":0.545},{"p":"b2","t":30,"v":0.565},{"p":"b2","t":34,"v":0.58},{"p":"b2","t":38,"v":0.6},{"p":"b2","t":40,"v":0.61},{"p":"b2","t":43,"v":0.625},{"p":"b2","t":46.5,"v":0.645},{"p":"b2","t":50,"v":0.66},{"p":"b2","t":52.6,"v":0.67},{"p":"b2","t":55,"v":0.675},{"p":"b2","t":57,"v":0.67},{"p":"b2","t":59,"v":0.66},{"p":"b2","t":61,"v":0.635},{"p":"b2","t":62,"v":0.62},{"p":"b2","t":63.5,"v":0.58},{"p":"b2","t":65,"v":0.51},{"p":"b2","t":67,"v":0.39},{"p":"b2","t":69,"v":0.26},{"p":"b2","t":71,"v":0.16},{"p":"b2","t":74,"v":0.06},{"p":"b2","t":76,"v":-0.02},
      {"p":"c2","t":0.3,"v":0.26},{"p":"c2","t":1.5,"v":0.32},{"p":"c2","t":3.6,"v":0.36},{"p":"c2","t":6,"v":0.38},{"p":"c2","t":9.6,"v":0.395},{"p":"c2","t":15,"v":0.41},{"p":"c2","t":21.7,"v":0.43},{"p":"c2","t":27,"v":0.445},{"p":"c2","t":33.7,"v":0.455},{"p":"c2","t":40,"v":0.462},{"p":"c2","t":45.7,"v":0.47},{"p":"c2","t":50,"v":0.48},{"p":"c2","t":54.7,"v":0.495},{"p":"c2","t":60,"v":0.515},{"p":"c2","t":63.8,"v":0.53},{"p":"c2","t":68,"v":0.55},{"p":"c2","t":72.8,"v":0.57},{"p":"c2","t":77,"v":0.59},{"p":"c2","t":80.3,"v":0.6},{"p":"c2","t":82.5,"v":0.59},{"p":"c2","t":84.8,"v":0.56},{"p":"c2","t":87,"v":0.5},{"p":"c2","t":89.3,"v":0.43},{"p":"c2","t":91.5,"v":0.34},{"p":"c2","t":93.8,"v":0.26},{"p":"c2","t":96,"v":0.2},{"p":"c2","t":98.3,"v":0.16},{"p":"c2","t":102,"v":0.115},{"p":"c2","t":105.9,"v":0.08},{"p":"c2","t":110,"v":0.04},{"p":"c2","t":113.4,"v":0.0},
      {"p":"d2","t":0.3,"v":0.2},{"p":"d2","t":1.5,"v":0.27},{"p":"d2","t":3,"v":0.32},{"p":"d2","t":6,"v":0.37},{"p":"d2","t":9,"v":0.41},{"p":"d2","t":12,"v":0.44},{"p":"d2","t":15,"v":0.47},{"p":"d2","t":18,"v":0.505},{"p":"d2","t":21,"v":0.54},{"p":"d2","t":24,"v":0.575},{"p":"d2","t":27,"v":0.61},{"p":"d2","t":30,"v":0.645},{"p":"d2","t":33,"v":0.68},{"p":"d2","t":36,"v":0.72},{"p":"d2","t":39,"v":0.755},{"p":"d2","t":41,"v":0.77},{"p":"d2","t":43,"v":0.765},{"p":"d2","t":45,"v":0.745},{"p":"d2","t":47,"v":0.71},{"p":"d2","t":49,"v":0.67},{"p":"d2","t":51,"v":0.62},{"p":"d2","t":53,"v":0.55},{"p":"d2","t":55.7,"v":0.46},{"p":"d2","t":57,"v":0.37},{"p":"d2","t":58.7,"v":0.26},{"p":"d2","t":60,"v":0.18},{"p":"d2","t":61.7,"v":0.11},{"p":"d2","t":63,"v":0.05},{"p":"d2","t":64.7,"v":-0.02}
    ]
  },
  "spacing": 4,
  "resolve": {"scale": {"color": "independent"}, "legend": {"color": "independent"}},
  "hconcat": [
    {
      "title": {"text": "(a)", "fontStyle": "italic", "frame": "bounds", "anchor": "start", "dx": -6, "offset": -8},
      "spacing": 16,
      "resolve": {"scale": {"color": "independent"}, "legend": {"color": "independent"}},
      "vconcat": [
        {
          "title": {"text": "(i)", "frame": "group", "anchor": "start"}, "width": 143, "height": 143,
          "data": {"name": "lines"},
          "transform": [{"filter": "datum.p == 'a1'"}],
          "mark": {"type": "line", "strokeWidth": 1.3, "interpolate": "monotone"},
          "encoding": {
            "x": {"field": "t", "type": "quantitative", "scale": {"domain": [-3.6, 124.4], "nice": false, "zero": false}, "axis": {"values": [0, 20, 40, 60, 80, 100, 120], "labelExpr": "datum.value == 100 ? '' : datum.label", "labelOverlap": false, "title": null}},
            "y": {"field": "v", "type": "quantitative", "scale": {"domain": [-0.042, 1.035], "nice": false, "zero": false}, "axis": {"values": [0, 0.2, 0.4, 0.6, 0.8, 1], "labelExpr": "datum.value == 0 ? '0' : format(datum.value, '.1f')", "labelOverlap": false, "title": "percentage"}},
            "color": {"field": "s", "type": "nominal", "scale": {"domain": ["step or wait", "tangential", "sideways"], "range": ["#9c9c9c", "#f4a521", "#2e4ea3"]}, "legend": null}
          }
        },
        {
          "title": {"text": "(ii)", "frame": "group", "anchor": "start"}, "width": 143, "height": 143,
          "encoding": {
            "x": {"field": "t", "type": "quantitative", "scale": {"domain": [-3.6, 124.4], "nice": false, "zero": false}, "axis": {"values": [0, 20, 40, 60, 80, 100, 120], "labelExpr": "datum.value == 100 ? '' : datum.label", "labelOverlap": false, "title": null}},
            "y": {"field": "v", "type": "quantitative", "scale": {"domain": [-0.042, 1.035], "nice": false, "zero": false}, "axis": {"values": [0, 0.2, 0.4, 0.6, 0.8, 1], "labelExpr": "datum.value == 0 ? '0' : format(datum.value, '.1f')", "labelOverlap": false, "title": "queue measure"}}
          },
          "layer": [
            {
              "data": {"name": "band"},
              "transform": [{"filter": "datum.p == 'a2'"}],
              "mark": {"type": "area", "color": "#6cbb45", "opacity": 0.88},
              "encoding": {"y": {"field": "lo", "type": "quantitative"}, "y2": {"field": "hi"}}
            },
            {
              "data": {"name": "pts"},
              "transform": [{"filter": "datum.p == 'a2'"}],
              "mark": {"type": "square", "size": 6, "color": "#6cbb45", "opacity": 1}
            },
            {
              "data": {"name": "fit"},
              "transform": [{"filter": "datum.p == 'a2'"}],
              "mark": {"type": "line", "color": "#111", "strokeWidth": 1.3, "interpolate": "monotone"}
            }
          ]
        },
        {
          "title": {"text": "(iii)", "frame": "group", "anchor": "start"}, "width": 143, "height": 143,
          "data": {"name": "lines"},
          "transform": [{"filter": "datum.p == 'a3'"}],
          "mark": {"type": "line", "strokeWidth": 1.3},
          "encoding": {
            "x": {"field": "t", "type": "quantitative", "scale": {"domain": [-3.6, 124.4], "nice": false, "zero": false}, "axis": {"values": [0, 20, 40, 60, 80, 100, 120], "labelExpr": "datum.value == 100 ? '' : datum.label", "labelOverlap": false, "title": "time (s)"}},
            "y": {"field": "v", "type": "quantitative", "scale": {"domain": [-0.042, 1.035], "nice": false, "zero": false}, "axis": {"values": [0, 0.2, 0.4, 0.6, 0.8, 1], "labelExpr": "datum.value == 0 ? '0' : format(datum.value, '.1f')", "labelOverlap": false, "title": "percentage"}},
            "color": {"field": "s", "type": "nominal", "scale": {"domain": ["s1", "s2", "s3", "s4"], "range": ["#e3262b", "#1e6b34", "#f3a51f", "#3150a5"]}, "legend": null}
          }
        }
      ]
    },
    {
      "title": {"text": "(b)", "fontStyle": "italic", "frame": "bounds", "anchor": "start", "dx": -16, "offset": -8},
      "spacing": 16,
      "resolve": {"scale": {"color": "independent"}, "legend": {"color": "independent"}},
      "vconcat": [
        {
          "title": {"text": "(i)", "frame": "group", "anchor": "start"}, "width": 143, "height": 143,
          "data": {"name": "lines"},
          "transform": [{"filter": "datum.p == 'b1'"}],
          "mark": {"type": "line", "strokeWidth": 1.3},
          "encoding": {
            "x": {"field": "t", "type": "quantitative", "scale": {"domain": [-3.6, 124.4], "nice": false, "zero": false}, "axis": {"values": [0, 20, 40, 60, 80, 100, 120], "labelExpr": "datum.value == 100 ? '' : datum.label", "labelOverlap": false, "title": null}},
            "y": {"field": "v", "type": "quantitative", "scale": {"domain": [-0.042, 1.035], "nice": false, "zero": false}, "axis": {"values": [0, 0.2, 0.4, 0.6, 0.8, 1], "labelExpr": "datum.value == 0 ? '0' : format(datum.value, '.1f')", "labelOverlap": false, "title": null}},
            "color": {"field": "s", "type": "nominal", "scale": {"domain": ["step or wait", "tangential", "sideways"], "range": ["#9c9c9c", "#f4a521", "#2e4ea3"]}, "legend": null}
          }
        },
        {
          "title": {"text": "(ii)", "frame": "group", "anchor": "start"}, "width": 143, "height": 143,
          "encoding": {
            "x": {"field": "t", "type": "quantitative", "scale": {"domain": [-3.6, 124.4], "nice": false, "zero": false}, "axis": {"values": [0, 20, 40, 60, 80, 100, 120], "labelExpr": "datum.value == 100 ? '' : datum.label", "labelOverlap": false, "title": null}},
            "y": {"field": "v", "type": "quantitative", "scale": {"domain": [-0.042, 1.035], "nice": false, "zero": false}, "axis": {"values": [0, 0.2, 0.4, 0.6, 0.8, 1], "labelExpr": "datum.value == 0 ? '0' : format(datum.value, '.1f')", "labelOverlap": false, "title": null}}
          },
          "layer": [
            {
              "data": {"name": "band"},
              "transform": [{"filter": "datum.p == 'b2'"}],
              "mark": {"type": "area", "color": "#6cbb45", "opacity": 0.88},
              "encoding": {"y": {"field": "lo", "type": "quantitative"}, "y2": {"field": "hi"}}
            },
            {
              "data": {"name": "pts"},
              "transform": [{"filter": "datum.p == 'b2'"}],
              "mark": {"type": "square", "size": 6, "color": "#6cbb45", "opacity": 1}
            },
            {
              "data": {"name": "fit"},
              "transform": [{"filter": "datum.p == 'b2'"}],
              "mark": {"type": "line", "color": "#111", "strokeWidth": 1.3, "interpolate": "monotone"}
            }
          ]
        },
        {
          "title": {"text": "(iii)", "frame": "group", "anchor": "start"}, "width": 143, "height": 143,
          "data": {"name": "lines"},
          "transform": [{"filter": "datum.p == 'b3'"}],
          "mark": {"type": "line", "strokeWidth": 1.3},
          "encoding": {
            "x": {"field": "t", "type": "quantitative", "scale": {"domain": [-3.6, 124.4], "nice": false, "zero": false}, "axis": {"values": [0, 20, 40, 60, 80, 100, 120], "labelExpr": "datum.value == 100 ? '' : datum.label", "labelOverlap": false, "title": "time (s)"}},
            "y": {"field": "v", "type": "quantitative", "scale": {"domain": [-0.042, 1.035], "nice": false, "zero": false}, "axis": {"values": [0, 0.2, 0.4, 0.6, 0.8, 1], "labelExpr": "datum.value == 0 ? '0' : format(datum.value, '.1f')", "labelOverlap": false, "title": null}},
            "color": {"field": "s", "type": "nominal", "scale": {"domain": ["s1", "s2", "s3", "s4"], "range": ["#e3262b", "#1e6b34", "#f3a51f", "#3150a5"]}, "legend": null}
          }
        }
      ]
    },
    {
      "title": {"text": "(c)", "fontStyle": "italic", "frame": "bounds", "anchor": "start", "dx": -16, "offset": -8},
      "spacing": 16,
      "resolve": {"scale": {"color": "independent"}, "legend": {"color": "independent"}},
      "vconcat": [
        {
          "title": {"text": "(i)", "frame": "group", "anchor": "start"}, "width": 143, "height": 143,
          "data": {"name": "lines"},
          "transform": [{"filter": "datum.p == 'c1'"}],
          "mark": {"type": "line", "strokeWidth": 1.3},
          "encoding": {
            "x": {"field": "t", "type": "quantitative", "scale": {"domain": [-3.6, 124.4], "nice": false, "zero": false}, "axis": {"values": [0, 20, 40, 60, 80, 100, 120], "labelExpr": "datum.value == 100 ? '' : datum.label", "labelOverlap": false, "title": null}},
            "y": {"field": "v", "type": "quantitative", "scale": {"domain": [-0.042, 1.035], "nice": false, "zero": false}, "axis": {"values": [0, 0.2, 0.4, 0.6, 0.8, 1], "labelExpr": "datum.value == 0 ? '0' : format(datum.value, '.1f')", "labelOverlap": false, "title": null}},
            "color": {"field": "s", "type": "nominal", "scale": {"domain": ["step or wait", "tangential", "sideways"], "range": ["#9c9c9c", "#f4a521", "#2e4ea3"]}, "legend": null}
          }
        },
        {
          "title": {"text": "(ii)", "frame": "group", "anchor": "start"}, "width": 143, "height": 143,
          "encoding": {
            "x": {"field": "t", "type": "quantitative", "scale": {"domain": [-3.6, 124.4], "nice": false, "zero": false}, "axis": {"values": [0, 20, 40, 60, 80, 100, 120], "labelExpr": "datum.value == 100 ? '' : datum.label", "labelOverlap": false, "title": null}},
            "y": {"field": "v", "type": "quantitative", "scale": {"domain": [-0.042, 1.035], "nice": false, "zero": false}, "axis": {"values": [0, 0.2, 0.4, 0.6, 0.8, 1], "labelExpr": "datum.value == 0 ? '0' : format(datum.value, '.1f')", "labelOverlap": false, "title": null}}
          },
          "layer": [
            {
              "data": {"name": "band"},
              "transform": [{"filter": "datum.p == 'c2'"}],
              "mark": {"type": "area", "color": "#6cbb45", "opacity": 0.88},
              "encoding": {"y": {"field": "lo", "type": "quantitative"}, "y2": {"field": "hi"}}
            },
            {
              "data": {"name": "pts"},
              "transform": [{"filter": "datum.p == 'c2'"}],
              "mark": {"type": "square", "size": 6, "color": "#6cbb45", "opacity": 1}
            },
            {
              "data": {"name": "fit"},
              "transform": [{"filter": "datum.p == 'c2'"}],
              "mark": {"type": "line", "color": "#111", "strokeWidth": 1.3, "interpolate": "monotone"}
            }
          ]
        },
        {
          "title": {"text": "(iii)", "frame": "group", "anchor": "start"}, "width": 143, "height": 143,
          "data": {"name": "lines"},
          "transform": [{"filter": "datum.p == 'c3'"}],
          "mark": {"type": "line", "strokeWidth": 1.3},
          "encoding": {
            "x": {"field": "t", "type": "quantitative", "scale": {"domain": [-3.6, 124.4], "nice": false, "zero": false}, "axis": {"values": [0, 20, 40, 60, 80, 100, 120], "labelExpr": "datum.value == 100 ? '' : datum.label", "labelOverlap": false, "title": "time (s)"}},
            "y": {"field": "v", "type": "quantitative", "scale": {"domain": [-0.042, 1.035], "nice": false, "zero": false}, "axis": {"values": [0, 0.2, 0.4, 0.6, 0.8, 1], "labelExpr": "datum.value == 0 ? '0' : format(datum.value, '.1f')", "labelOverlap": false, "title": null}},
            "color": {"field": "s", "type": "nominal", "scale": {"domain": ["s1", "s2", "s3", "s4"], "range": ["#e3262b", "#1e6b34", "#f3a51f", "#3150a5"]}, "legend": null}
          }
        }
      ]
    },
    {
      "title": {"text": "(d)", "fontStyle": "italic", "frame": "bounds", "anchor": "start", "dx": -16, "offset": -8},
      "spacing": 16,
      "resolve": {"scale": {"color": "independent"}, "legend": {"color": "independent"}},
      "vconcat": [
        {
          "title": {"text": "(i)", "frame": "group", "anchor": "start"}, "width": 143, "height": 143,
          "data": {"name": "lines"},
          "transform": [{"filter": "datum.p == 'd1'"}],
          "mark": {"type": "line", "strokeWidth": 1.3, "interpolate": "monotone"},
          "encoding": {
            "x": {"field": "t", "type": "quantitative", "scale": {"domain": [-3.6, 124.4], "nice": false, "zero": false}, "axis": {"values": [0, 20, 40, 60, 80, 100, 120], "labelExpr": "datum.value == 100 ? '' : datum.label", "labelOverlap": false, "title": null}},
            "y": {"field": "v", "type": "quantitative", "scale": {"domain": [-0.042, 1.035], "nice": false, "zero": false}, "axis": {"values": [0, 0.2, 0.4, 0.6, 0.8, 1], "labelExpr": "datum.value == 0 ? '0' : format(datum.value, '.1f')", "labelOverlap": false, "title": null}},
            "color": {"field": "s", "type": "nominal", "scale": {"domain": ["step or wait", "tangential", "sideways"], "range": ["#9c9c9c", "#f4a521", "#2e4ea3"]}, "legend": {"title": "heuristic", "orient": "none", "legendX": 44, "legendY": 45}}
          }
        },
        {
          "title": {"text": "(ii)", "frame": "group", "anchor": "start"}, "width": 143, "height": 143,
          "encoding": {
            "x": {"field": "t", "type": "quantitative", "scale": {"domain": [-3.6, 124.4], "nice": false, "zero": false}, "axis": {"values": [0, 20, 40, 60, 80, 100, 120], "labelExpr": "datum.value == 100 ? '' : datum.label", "labelOverlap": false, "title": null}},
            "y": {"field": "v", "type": "quantitative", "scale": {"domain": [-0.042, 1.035], "nice": false, "zero": false}, "axis": {"values": [0, 0.2, 0.4, 0.6, 0.8, 1], "labelExpr": "datum.value == 0 ? '0' : format(datum.value, '.1f')", "labelOverlap": false, "title": null}}
          },
          "layer": [
            {
              "data": {"name": "band"},
              "transform": [{"filter": "datum.p == 'd2'"}],
              "mark": {"type": "area", "color": "#6cbb45", "opacity": 0.88},
              "encoding": {"y": {"field": "lo", "type": "quantitative"}, "y2": {"field": "hi"}}
            },
            {
              "data": {"name": "pts"},
              "transform": [{"filter": "datum.p == 'd2'"}],
              "mark": {"type": "square", "size": 6, "color": "#6cbb45", "opacity": 1}
            },
            {
              "data": {"name": "fit"},
              "transform": [{"filter": "datum.p == 'd2'"}],
              "mark": {"type": "line", "color": "#111", "strokeWidth": 1.3, "interpolate": "monotone"}
            }
          ]
        },
        {
          "title": {"text": "(iii)", "frame": "group", "anchor": "start"}, "width": 143, "height": 143,
          "data": {"name": "lines"},
          "transform": [{"filter": "datum.p == 'd3'"}],
          "mark": {"type": "line", "strokeWidth": 1.3},
          "encoding": {
            "x": {"field": "t", "type": "quantitative", "scale": {"domain": [-3.6, 124.4], "nice": false, "zero": false}, "axis": {"values": [0, 20, 40, 60, 80, 100, 120], "labelExpr": "datum.value == 100 ? '' : datum.label", "labelOverlap": false, "title": "time (s)"}},
            "y": {"field": "v", "type": "quantitative", "scale": {"domain": [-0.042, 1.035], "nice": false, "zero": false}, "axis": {"values": [0, 0.2, 0.4, 0.6, 0.8, 1], "labelExpr": "datum.value == 0 ? '0' : format(datum.value, '.1f')", "labelOverlap": false, "title": null}},
            "color": {"field": "s", "type": "nominal", "scale": {"domain": ["s1", "s2", "s3", "s4"], "range": ["#e3262b", "#1e6b34", "#f3a51f", "#3150a5"]}, "legend": null}
          }
        }
      ]
    }
  ]
}
